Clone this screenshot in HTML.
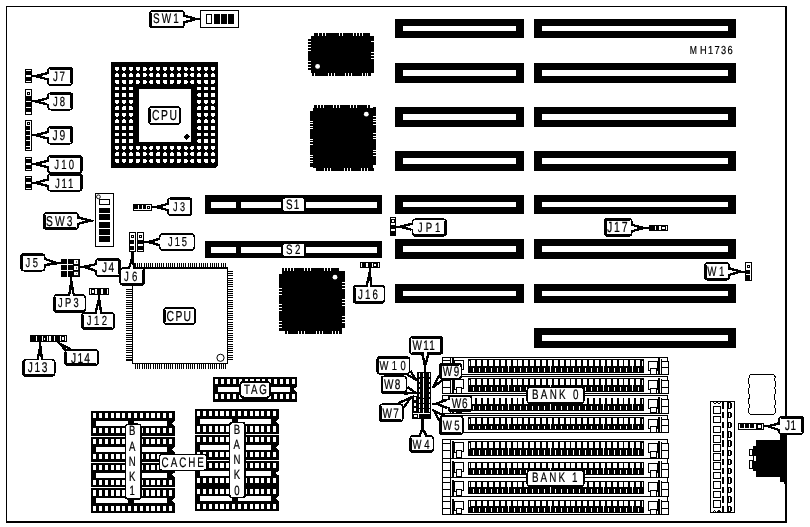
<!DOCTYPE html>
<html><head><meta charset="utf-8"><title>MH1736</title>
<style>
html,body{margin:0;padding:0;background:#fff;}
body{width:810px;height:527px;overflow:hidden;}
svg{display:block;filter:grayscale(1);}
text{font-family:"Liberation Sans",sans-serif;text-rendering:geometricPrecision;stroke:#000;stroke-width:0.22px;}
</style></head><body>
<svg width="810" height="527" viewBox="0 0 810 527" shape-rendering="crispEdges">
<rect width="810" height="527" fill="#fff"/>
<line x1="6.4" y1="5.8" x2="6.4" y2="522.8" stroke="#000" stroke-width="1.1"/>
<line x1="5.9" y1="6.3" x2="787" y2="6.3" stroke="#000" stroke-width="1.1"/>
<rect x="785" y="5.8" width="2" height="517.2" fill="#000"/>
<rect x="5.9" y="520.8" width="781.1" height="2.2" fill="#000"/>
<rect x="394.9" y="19.2" width="129" height="18.6" fill="#000"/>
<rect x="402.8" y="25.8" width="113.4" height="5.4" fill="#fff"/>
<rect x="533.8" y="19.2" width="202" height="18.6" fill="#000"/>
<rect x="541.7" y="25.8" width="186.3" height="5.4" fill="#fff"/>
<rect x="394.9" y="63" width="129" height="19.8" fill="#000"/>
<rect x="402.8" y="69.5" width="113.4" height="6.3" fill="#fff"/>
<rect x="533.8" y="63" width="202" height="19.8" fill="#000"/>
<rect x="541.7" y="69.5" width="186.3" height="6.3" fill="#fff"/>
<rect x="394.9" y="107" width="129" height="19.7" fill="#000"/>
<rect x="402.8" y="113.7" width="113.4" height="6.3" fill="#fff"/>
<rect x="533.8" y="107" width="202" height="19.7" fill="#000"/>
<rect x="541.7" y="113.7" width="186.3" height="6.3" fill="#fff"/>
<rect x="394.9" y="151.2" width="129" height="19.6" fill="#000"/>
<rect x="402.8" y="157.8" width="113.4" height="6" fill="#fff"/>
<rect x="533.8" y="151.2" width="202" height="19.6" fill="#000"/>
<rect x="541.7" y="157.8" width="186.3" height="6" fill="#fff"/>
<rect x="394.9" y="195" width="129" height="18.8" fill="#000"/>
<rect x="402.8" y="201.7" width="113.4" height="5.1" fill="#fff"/>
<rect x="533.8" y="195" width="202" height="18.8" fill="#000"/>
<rect x="541.7" y="201.7" width="186.3" height="5.1" fill="#fff"/>
<rect x="394.9" y="238.8" width="129" height="20" fill="#000"/>
<rect x="402.8" y="245.8" width="113.4" height="6" fill="#fff"/>
<rect x="533.8" y="238.8" width="202" height="20" fill="#000"/>
<rect x="541.7" y="245.8" width="186.3" height="6" fill="#fff"/>
<rect x="394.9" y="283.8" width="129" height="18.9" fill="#000"/>
<rect x="402.8" y="290.7" width="113.4" height="5.3" fill="#fff"/>
<rect x="533.8" y="283.8" width="202" height="18.9" fill="#000"/>
<rect x="541.7" y="290.7" width="186.3" height="5.3" fill="#fff"/>
<rect x="533.8" y="328" width="202" height="19.7" fill="#000"/>
<rect x="541.7" y="334.8" width="186.3" height="5.9" fill="#fff"/>
<rect x="204.9" y="195.4" width="177" height="18.5" fill="#000"/>
<rect x="211" y="201.8" width="25.2" height="6.2" fill="#fff"/>
<rect x="240.7" y="201.8" width="136.5" height="6.2" fill="#fff"/>
<rect x="282.2" y="197.4" width="23" height="14.7" fill="#fff" stroke="#000" stroke-width="2" rx="3"/>
<text transform="translate(286.1 208.9) scale(0.72 1)" font-size="13.66" letter-spacing="1.55" fill="#000">S1</text>
<rect x="204.9" y="240.6" width="177" height="17.7" fill="#000"/>
<rect x="211" y="246.7" width="25.2" height="6.2" fill="#fff"/>
<rect x="240.7" y="246.7" width="136.5" height="6.2" fill="#fff"/>
<rect x="282.2" y="242.8" width="23" height="14.4" fill="#fff" stroke="#000" stroke-width="2" rx="3"/>
<text transform="translate(286.1 253.9) scale(0.72 1)" font-size="13.52" letter-spacing="3.22" fill="#000">S2</text>
<path d="M111.2 62H218V165.6L215.2 168.4H111.2Z" fill="#000" stroke="none" stroke-width="1"/>
<rect x="138.8" y="88.8" width="52.4" height="52.9" fill="#fff"/>
<rect x="115.2" y="66.8" width="4" height="3.8" rx="1.2" fill="#fff"/>
<rect x="115.2" y="73.38" width="4" height="3.8" rx="1.2" fill="#fff"/>
<rect x="115.2" y="79.96" width="4" height="3.8" rx="1.2" fill="#fff"/>
<rect x="115.2" y="86.54" width="4" height="3.8" rx="1.2" fill="#fff"/>
<rect x="115.2" y="93.12" width="4" height="3.8" rx="1.2" fill="#fff"/>
<rect x="115.2" y="99.7" width="4" height="3.8" rx="1.2" fill="#fff"/>
<rect x="115.2" y="106.28" width="4" height="3.8" rx="1.2" fill="#fff"/>
<rect x="115.2" y="112.86" width="4" height="3.8" rx="1.2" fill="#fff"/>
<rect x="115.2" y="119.44" width="4" height="3.8" rx="1.2" fill="#fff"/>
<rect x="115.2" y="126.02" width="4" height="3.8" rx="1.2" fill="#fff"/>
<rect x="115.2" y="132.6" width="4" height="3.8" rx="1.2" fill="#fff"/>
<rect x="115.2" y="139.18" width="4" height="3.8" rx="1.2" fill="#fff"/>
<rect x="115.2" y="145.76" width="4" height="3.8" rx="1.2" fill="#fff"/>
<rect x="115.2" y="152.34" width="4" height="3.8" rx="1.2" fill="#fff"/>
<rect x="115.2" y="158.92" width="4" height="3.8" rx="1.2" fill="#fff"/>
<rect x="122.04" y="66.8" width="4" height="3.8" rx="1.2" fill="#fff"/>
<rect x="122.04" y="73.38" width="4" height="3.8" rx="1.2" fill="#fff"/>
<rect x="122.04" y="79.96" width="4" height="3.8" rx="1.2" fill="#fff"/>
<rect x="122.04" y="86.54" width="4" height="3.8" rx="1.2" fill="#fff"/>
<rect x="122.04" y="93.12" width="4" height="3.8" rx="1.2" fill="#fff"/>
<rect x="122.04" y="99.7" width="4" height="3.8" rx="1.2" fill="#fff"/>
<rect x="122.04" y="106.28" width="4" height="3.8" rx="1.2" fill="#fff"/>
<rect x="122.04" y="112.86" width="4" height="3.8" rx="1.2" fill="#fff"/>
<rect x="122.04" y="119.44" width="4" height="3.8" rx="1.2" fill="#fff"/>
<rect x="122.04" y="126.02" width="4" height="3.8" rx="1.2" fill="#fff"/>
<rect x="122.04" y="132.6" width="4" height="3.8" rx="1.2" fill="#fff"/>
<rect x="122.04" y="139.18" width="4" height="3.8" rx="1.2" fill="#fff"/>
<rect x="122.04" y="145.76" width="4" height="3.8" rx="1.2" fill="#fff"/>
<rect x="122.04" y="152.34" width="4" height="3.8" rx="1.2" fill="#fff"/>
<rect x="122.04" y="158.92" width="4" height="3.8" rx="1.2" fill="#fff"/>
<rect x="128.88" y="66.8" width="4" height="3.8" rx="1.2" fill="#fff"/>
<rect x="128.88" y="73.38" width="4" height="3.8" rx="1.2" fill="#fff"/>
<rect x="128.88" y="79.96" width="4" height="3.8" rx="1.2" fill="#fff"/>
<rect x="128.88" y="86.54" width="4" height="3.8" rx="1.2" fill="#fff"/>
<rect x="128.88" y="93.12" width="4" height="3.8" rx="1.2" fill="#fff"/>
<rect x="128.88" y="99.7" width="4" height="3.8" rx="1.2" fill="#fff"/>
<rect x="128.88" y="106.28" width="4" height="3.8" rx="1.2" fill="#fff"/>
<rect x="128.88" y="112.86" width="4" height="3.8" rx="1.2" fill="#fff"/>
<rect x="128.88" y="119.44" width="4" height="3.8" rx="1.2" fill="#fff"/>
<rect x="128.88" y="126.02" width="4" height="3.8" rx="1.2" fill="#fff"/>
<rect x="128.88" y="132.6" width="4" height="3.8" rx="1.2" fill="#fff"/>
<rect x="128.88" y="139.18" width="4" height="3.8" rx="1.2" fill="#fff"/>
<rect x="128.88" y="145.76" width="4" height="3.8" rx="1.2" fill="#fff"/>
<rect x="128.88" y="152.34" width="4" height="3.8" rx="1.2" fill="#fff"/>
<rect x="128.88" y="158.92" width="4" height="3.8" rx="1.2" fill="#fff"/>
<rect x="135.72" y="66.8" width="4" height="3.8" rx="1.2" fill="#fff"/>
<rect x="135.72" y="73.38" width="4" height="3.8" rx="1.2" fill="#fff"/>
<rect x="135.72" y="79.96" width="4" height="3.8" rx="1.2" fill="#fff"/>
<rect x="135.72" y="145.76" width="4" height="3.8" rx="1.2" fill="#fff"/>
<rect x="135.72" y="152.34" width="4" height="3.8" rx="1.2" fill="#fff"/>
<rect x="135.72" y="158.92" width="4" height="3.8" rx="1.2" fill="#fff"/>
<rect x="142.56" y="66.8" width="4" height="3.8" rx="1.2" fill="#fff"/>
<rect x="142.56" y="73.38" width="4" height="3.8" rx="1.2" fill="#fff"/>
<rect x="142.56" y="79.96" width="4" height="3.8" rx="1.2" fill="#fff"/>
<rect x="142.56" y="145.76" width="4" height="3.8" rx="1.2" fill="#fff"/>
<rect x="142.56" y="152.34" width="4" height="3.8" rx="1.2" fill="#fff"/>
<rect x="142.56" y="158.92" width="4" height="3.8" rx="1.2" fill="#fff"/>
<rect x="149.4" y="66.8" width="4" height="3.8" rx="1.2" fill="#fff"/>
<rect x="149.4" y="73.38" width="4" height="3.8" rx="1.2" fill="#fff"/>
<rect x="149.4" y="79.96" width="4" height="3.8" rx="1.2" fill="#fff"/>
<rect x="149.4" y="145.76" width="4" height="3.8" rx="1.2" fill="#fff"/>
<rect x="149.4" y="152.34" width="4" height="3.8" rx="1.2" fill="#fff"/>
<rect x="149.4" y="158.92" width="4" height="3.8" rx="1.2" fill="#fff"/>
<rect x="156.24" y="66.8" width="4" height="3.8" rx="1.2" fill="#fff"/>
<rect x="156.24" y="73.38" width="4" height="3.8" rx="1.2" fill="#fff"/>
<rect x="156.24" y="79.96" width="4" height="3.8" rx="1.2" fill="#fff"/>
<rect x="156.24" y="145.76" width="4" height="3.8" rx="1.2" fill="#fff"/>
<rect x="156.24" y="152.34" width="4" height="3.8" rx="1.2" fill="#fff"/>
<rect x="156.24" y="158.92" width="4" height="3.8" rx="1.2" fill="#fff"/>
<rect x="163.08" y="66.8" width="4" height="3.8" rx="1.2" fill="#fff"/>
<rect x="163.08" y="73.38" width="4" height="3.8" rx="1.2" fill="#fff"/>
<rect x="163.08" y="79.96" width="4" height="3.8" rx="1.2" fill="#fff"/>
<rect x="163.08" y="145.76" width="4" height="3.8" rx="1.2" fill="#fff"/>
<rect x="163.08" y="152.34" width="4" height="3.8" rx="1.2" fill="#fff"/>
<rect x="163.08" y="158.92" width="4" height="3.8" rx="1.2" fill="#fff"/>
<rect x="169.92" y="66.8" width="4" height="3.8" rx="1.2" fill="#fff"/>
<rect x="169.92" y="73.38" width="4" height="3.8" rx="1.2" fill="#fff"/>
<rect x="169.92" y="79.96" width="4" height="3.8" rx="1.2" fill="#fff"/>
<rect x="169.92" y="145.76" width="4" height="3.8" rx="1.2" fill="#fff"/>
<rect x="169.92" y="152.34" width="4" height="3.8" rx="1.2" fill="#fff"/>
<rect x="169.92" y="158.92" width="4" height="3.8" rx="1.2" fill="#fff"/>
<rect x="176.76" y="66.8" width="4" height="3.8" rx="1.2" fill="#fff"/>
<rect x="176.76" y="73.38" width="4" height="3.8" rx="1.2" fill="#fff"/>
<rect x="176.76" y="79.96" width="4" height="3.8" rx="1.2" fill="#fff"/>
<rect x="176.76" y="145.76" width="4" height="3.8" rx="1.2" fill="#fff"/>
<rect x="176.76" y="152.34" width="4" height="3.8" rx="1.2" fill="#fff"/>
<rect x="176.76" y="158.92" width="4" height="3.8" rx="1.2" fill="#fff"/>
<rect x="183.6" y="66.8" width="4" height="3.8" rx="1.2" fill="#fff"/>
<rect x="183.6" y="73.38" width="4" height="3.8" rx="1.2" fill="#fff"/>
<rect x="183.6" y="79.96" width="4" height="3.8" rx="1.2" fill="#fff"/>
<rect x="183.6" y="145.76" width="4" height="3.8" rx="1.2" fill="#fff"/>
<rect x="183.6" y="152.34" width="4" height="3.8" rx="1.2" fill="#fff"/>
<rect x="183.6" y="158.92" width="4" height="3.8" rx="1.2" fill="#fff"/>
<rect x="190.44" y="66.8" width="4" height="3.8" rx="1.2" fill="#fff"/>
<rect x="190.44" y="73.38" width="4" height="3.8" rx="1.2" fill="#fff"/>
<rect x="190.44" y="79.96" width="4" height="3.8" rx="1.2" fill="#fff"/>
<rect x="190.44" y="145.76" width="4" height="3.8" rx="1.2" fill="#fff"/>
<rect x="190.44" y="152.34" width="4" height="3.8" rx="1.2" fill="#fff"/>
<rect x="190.44" y="158.92" width="4" height="3.8" rx="1.2" fill="#fff"/>
<rect x="197.28" y="66.8" width="4" height="3.8" rx="1.2" fill="#fff"/>
<rect x="197.28" y="73.38" width="4" height="3.8" rx="1.2" fill="#fff"/>
<rect x="197.28" y="79.96" width="4" height="3.8" rx="1.2" fill="#fff"/>
<rect x="197.28" y="86.54" width="4" height="3.8" rx="1.2" fill="#fff"/>
<rect x="197.28" y="93.12" width="4" height="3.8" rx="1.2" fill="#fff"/>
<rect x="197.28" y="99.7" width="4" height="3.8" rx="1.2" fill="#fff"/>
<rect x="197.28" y="106.28" width="4" height="3.8" rx="1.2" fill="#fff"/>
<rect x="197.28" y="112.86" width="4" height="3.8" rx="1.2" fill="#fff"/>
<rect x="197.28" y="119.44" width="4" height="3.8" rx="1.2" fill="#fff"/>
<rect x="197.28" y="126.02" width="4" height="3.8" rx="1.2" fill="#fff"/>
<rect x="197.28" y="132.6" width="4" height="3.8" rx="1.2" fill="#fff"/>
<rect x="197.28" y="139.18" width="4" height="3.8" rx="1.2" fill="#fff"/>
<rect x="197.28" y="145.76" width="4" height="3.8" rx="1.2" fill="#fff"/>
<rect x="197.28" y="152.34" width="4" height="3.8" rx="1.2" fill="#fff"/>
<rect x="197.28" y="158.92" width="4" height="3.8" rx="1.2" fill="#fff"/>
<rect x="204.12" y="66.8" width="4" height="3.8" rx="1.2" fill="#fff"/>
<rect x="204.12" y="73.38" width="4" height="3.8" rx="1.2" fill="#fff"/>
<rect x="204.12" y="79.96" width="4" height="3.8" rx="1.2" fill="#fff"/>
<rect x="204.12" y="86.54" width="4" height="3.8" rx="1.2" fill="#fff"/>
<rect x="204.12" y="93.12" width="4" height="3.8" rx="1.2" fill="#fff"/>
<rect x="204.12" y="99.7" width="4" height="3.8" rx="1.2" fill="#fff"/>
<rect x="204.12" y="106.28" width="4" height="3.8" rx="1.2" fill="#fff"/>
<rect x="204.12" y="112.86" width="4" height="3.8" rx="1.2" fill="#fff"/>
<rect x="204.12" y="119.44" width="4" height="3.8" rx="1.2" fill="#fff"/>
<rect x="204.12" y="126.02" width="4" height="3.8" rx="1.2" fill="#fff"/>
<rect x="204.12" y="132.6" width="4" height="3.8" rx="1.2" fill="#fff"/>
<rect x="204.12" y="139.18" width="4" height="3.8" rx="1.2" fill="#fff"/>
<rect x="204.12" y="145.76" width="4" height="3.8" rx="1.2" fill="#fff"/>
<rect x="204.12" y="152.34" width="4" height="3.8" rx="1.2" fill="#fff"/>
<rect x="204.12" y="158.92" width="4" height="3.8" rx="1.2" fill="#fff"/>
<rect x="210.96" y="66.8" width="4" height="3.8" rx="1.2" fill="#fff"/>
<rect x="210.96" y="73.38" width="4" height="3.8" rx="1.2" fill="#fff"/>
<rect x="210.96" y="79.96" width="4" height="3.8" rx="1.2" fill="#fff"/>
<rect x="210.96" y="86.54" width="4" height="3.8" rx="1.2" fill="#fff"/>
<rect x="210.96" y="93.12" width="4" height="3.8" rx="1.2" fill="#fff"/>
<rect x="210.96" y="99.7" width="4" height="3.8" rx="1.2" fill="#fff"/>
<rect x="210.96" y="106.28" width="4" height="3.8" rx="1.2" fill="#fff"/>
<rect x="210.96" y="112.86" width="4" height="3.8" rx="1.2" fill="#fff"/>
<rect x="210.96" y="119.44" width="4" height="3.8" rx="1.2" fill="#fff"/>
<rect x="210.96" y="126.02" width="4" height="3.8" rx="1.2" fill="#fff"/>
<rect x="210.96" y="132.6" width="4" height="3.8" rx="1.2" fill="#fff"/>
<rect x="210.96" y="139.18" width="4" height="3.8" rx="1.2" fill="#fff"/>
<rect x="210.96" y="145.76" width="4" height="3.8" rx="1.2" fill="#fff"/>
<rect x="210.96" y="152.34" width="4" height="3.8" rx="1.2" fill="#fff"/>
<rect x="210.96" y="158.92" width="4" height="3.8" rx="1.2" fill="#fff"/>
<path d="M186.7 133.4L190 136.7L186.7 140L183.4 136.7Z" fill="#000" stroke="none" stroke-width="1"/>
<rect x="310.8" y="36" width="60.2" height="37" fill="#000"/>
<rect x="313.9" y="33" width="56.1" height="3.2" fill="#000"/>
<rect x="311.9" y="72.8" width="58.7" height="3.2" fill="#000"/>
<rect x="307.8" y="38.9" width="3.2" height="31" fill="#000"/>
<rect x="370.8" y="36.1" width="3.2" height="36.5" fill="#000"/>
<rect x="318.2" y="32.8" width="1" height="3.2" fill="#fff"/>
<rect x="321.6" y="32.8" width="1" height="3.2" fill="#fff"/>
<rect x="325" y="32.8" width="1" height="3.2" fill="#fff"/>
<rect x="338.7" y="32.8" width="1" height="3.2" fill="#fff"/>
<rect x="341.8" y="32.8" width="1" height="3.2" fill="#fff"/>
<rect x="352.6" y="32.8" width="1" height="3.2" fill="#fff"/>
<rect x="356" y="32.8" width="1" height="3.2" fill="#fff"/>
<rect x="359.2" y="32.8" width="1" height="3.2" fill="#fff"/>
<rect x="362.3" y="32.8" width="1" height="3.2" fill="#fff"/>
<rect x="314.1" y="73" width="1" height="3.2" fill="#fff"/>
<rect x="327.8" y="73" width="1" height="3.2" fill="#fff"/>
<rect x="330.9" y="73" width="1" height="3.2" fill="#fff"/>
<rect x="334.3" y="73" width="1" height="3.2" fill="#fff"/>
<rect x="344.8" y="73" width="1" height="3.2" fill="#fff"/>
<rect x="348.2" y="73" width="1" height="3.2" fill="#fff"/>
<rect x="351.4" y="73" width="1" height="3.2" fill="#fff"/>
<rect x="361.9" y="73" width="1" height="3.2" fill="#fff"/>
<rect x="364.6" y="73" width="1" height="3.2" fill="#fff"/>
<rect x="367.4" y="73" width="1" height="3.2" fill="#fff"/>
<rect x="307.6" y="41.1" width="3.2" height="1" fill="#fff"/>
<rect x="307.6" y="44.1" width="3.2" height="1" fill="#fff"/>
<rect x="307.6" y="47.2" width="3.2" height="1" fill="#fff"/>
<rect x="307.6" y="50.2" width="3.2" height="1" fill="#fff"/>
<rect x="307.6" y="60.5" width="3.2" height="1" fill="#fff"/>
<rect x="307.6" y="63.5" width="3.2" height="1" fill="#fff"/>
<rect x="307.6" y="66.6" width="3.2" height="1" fill="#fff"/>
<rect x="371" y="41.4" width="3.2" height="1" fill="#fff"/>
<rect x="371" y="51.6" width="3.2" height="1" fill="#fff"/>
<rect x="371" y="54.7" width="3.2" height="1" fill="#fff"/>
<rect x="371" y="58.2" width="3.2" height="1" fill="#fff"/>
<circle cx="317.6" cy="66.4" r="2.4" fill="#fff" stroke="none" stroke-width="1" shape-rendering="geometricPrecision"/>
<rect x="313" y="108" width="60.2" height="59.7" fill="#000"/>
<rect x="313.5" y="105" width="56.5" height="3.2" fill="#000"/>
<rect x="316" y="167.5" width="57.6" height="3.2" fill="#000"/>
<rect x="310" y="111" width="3.2" height="56.2" fill="#000"/>
<rect x="373" y="107.4" width="3.2" height="57.4" fill="#000"/>
<rect x="316.5" y="104.8" width="1" height="3.2" fill="#fff"/>
<rect x="319.5" y="104.8" width="1" height="3.2" fill="#fff"/>
<rect x="322.5" y="104.8" width="1" height="3.2" fill="#fff"/>
<rect x="333" y="104.8" width="1" height="3.2" fill="#fff"/>
<rect x="336" y="104.8" width="1" height="3.2" fill="#fff"/>
<rect x="339" y="104.8" width="1" height="3.2" fill="#fff"/>
<rect x="350" y="104.8" width="1" height="3.2" fill="#fff"/>
<rect x="353" y="104.8" width="1" height="3.2" fill="#fff"/>
<rect x="356" y="104.8" width="1" height="3.2" fill="#fff"/>
<rect x="366.5" y="104.8" width="1" height="3.2" fill="#fff"/>
<rect x="324" y="167.7" width="1" height="3.2" fill="#fff"/>
<rect x="327" y="167.7" width="1" height="3.2" fill="#fff"/>
<rect x="330" y="167.7" width="1" height="3.2" fill="#fff"/>
<rect x="344" y="167.7" width="1" height="3.2" fill="#fff"/>
<rect x="347" y="167.7" width="1" height="3.2" fill="#fff"/>
<rect x="350" y="167.7" width="1" height="3.2" fill="#fff"/>
<rect x="361" y="167.7" width="1" height="3.2" fill="#fff"/>
<rect x="364" y="167.7" width="1" height="3.2" fill="#fff"/>
<rect x="367" y="167.7" width="1" height="3.2" fill="#fff"/>
<rect x="309.8" y="120.5" width="3.2" height="1" fill="#fff"/>
<rect x="309.8" y="123" width="3.2" height="1" fill="#fff"/>
<rect x="309.8" y="125.5" width="3.2" height="1" fill="#fff"/>
<rect x="309.8" y="128" width="3.2" height="1" fill="#fff"/>
<rect x="309.8" y="138.5" width="3.2" height="1" fill="#fff"/>
<rect x="309.8" y="141" width="3.2" height="1" fill="#fff"/>
<rect x="309.8" y="143.5" width="3.2" height="1" fill="#fff"/>
<rect x="309.8" y="154.5" width="3.2" height="1" fill="#fff"/>
<rect x="309.8" y="157" width="3.2" height="1" fill="#fff"/>
<rect x="309.8" y="159.5" width="3.2" height="1" fill="#fff"/>
<rect x="309.8" y="162" width="3.2" height="1" fill="#fff"/>
<rect x="373.2" y="116" width="3.2" height="1" fill="#fff"/>
<rect x="373.2" y="118.5" width="3.2" height="1" fill="#fff"/>
<rect x="373.2" y="121" width="3.2" height="1" fill="#fff"/>
<rect x="373.2" y="123.5" width="3.2" height="1" fill="#fff"/>
<rect x="373.2" y="133" width="3.2" height="1" fill="#fff"/>
<rect x="373.2" y="135.5" width="3.2" height="1" fill="#fff"/>
<rect x="373.2" y="138" width="3.2" height="1" fill="#fff"/>
<rect x="373.2" y="149.5" width="3.2" height="1" fill="#fff"/>
<rect x="373.2" y="152" width="3.2" height="1" fill="#fff"/>
<rect x="373.2" y="154.5" width="3.2" height="1" fill="#fff"/>
<circle cx="366.3" cy="114.2" r="2.4" fill="#fff" stroke="none" stroke-width="1" shape-rendering="geometricPrecision"/>
<rect x="281.8" y="270.9" width="60.2" height="60.5" fill="#000"/>
<rect x="281.9" y="267.9" width="56.9" height="3.2" fill="#000"/>
<rect x="284.9" y="331.2" width="56.9" height="3.2" fill="#000"/>
<rect x="278.8" y="273.7" width="3.2" height="56.9" fill="#000"/>
<rect x="341.8" y="271.4" width="3.2" height="56.2" fill="#000"/>
<rect x="283.9" y="267.7" width="1" height="3.2" fill="#fff"/>
<rect x="286.7" y="267.7" width="1" height="3.2" fill="#fff"/>
<rect x="289.7" y="267.7" width="1" height="3.2" fill="#fff"/>
<rect x="292.8" y="267.7" width="1" height="3.2" fill="#fff"/>
<rect x="304.1" y="267.7" width="1" height="3.2" fill="#fff"/>
<rect x="307.2" y="267.7" width="1" height="3.2" fill="#fff"/>
<rect x="310.2" y="267.7" width="1" height="3.2" fill="#fff"/>
<rect x="323.9" y="267.7" width="1" height="3.2" fill="#fff"/>
<rect x="326.9" y="267.7" width="1" height="3.2" fill="#fff"/>
<rect x="329.9" y="267.7" width="1" height="3.2" fill="#fff"/>
<rect x="286.7" y="331.4" width="1" height="3.2" fill="#fff"/>
<rect x="298.1" y="331.4" width="1" height="3.2" fill="#fff"/>
<rect x="301.1" y="331.4" width="1" height="3.2" fill="#fff"/>
<rect x="304.1" y="331.4" width="1" height="3.2" fill="#fff"/>
<rect x="315.5" y="331.4" width="1" height="3.2" fill="#fff"/>
<rect x="318.6" y="331.4" width="1" height="3.2" fill="#fff"/>
<rect x="321.6" y="331.4" width="1" height="3.2" fill="#fff"/>
<rect x="332.2" y="331.4" width="1" height="3.2" fill="#fff"/>
<rect x="335.3" y="331.4" width="1" height="3.2" fill="#fff"/>
<rect x="338.3" y="331.4" width="1" height="3.2" fill="#fff"/>
<rect x="278.6" y="287.6" width="3.2" height="1" fill="#fff"/>
<rect x="278.6" y="290.6" width="3.2" height="1" fill="#fff"/>
<rect x="278.6" y="293.7" width="3.2" height="1" fill="#fff"/>
<rect x="278.6" y="304.3" width="3.2" height="1" fill="#fff"/>
<rect x="278.6" y="307.3" width="3.2" height="1" fill="#fff"/>
<rect x="278.6" y="310.4" width="3.2" height="1" fill="#fff"/>
<rect x="278.6" y="321" width="3.2" height="1" fill="#fff"/>
<rect x="278.6" y="324" width="3.2" height="1" fill="#fff"/>
<rect x="278.6" y="327.1" width="3.2" height="1" fill="#fff"/>
<rect x="342" y="282.3" width="3.2" height="1" fill="#fff"/>
<rect x="342" y="285.3" width="3.2" height="1" fill="#fff"/>
<rect x="342" y="288.3" width="3.2" height="1" fill="#fff"/>
<rect x="342" y="299" width="3.2" height="1" fill="#fff"/>
<rect x="342" y="302" width="3.2" height="1" fill="#fff"/>
<rect x="342" y="305" width="3.2" height="1" fill="#fff"/>
<rect x="342" y="315.7" width="3.2" height="1" fill="#fff"/>
<rect x="342" y="318.7" width="3.2" height="1" fill="#fff"/>
<rect x="342" y="321.7" width="3.2" height="1" fill="#fff"/>
<circle cx="335" cy="277.2" r="2.4" fill="#fff" stroke="none" stroke-width="1" shape-rendering="geometricPrecision"/>
<rect x="132" y="267.4" width="96.2" height="96.6" fill="#000"/>
<rect x="133.2" y="268.6" width="93.8" height="94.2" fill="#fff"/>
<rect x="135" y="263.2" width="1" height="5.1" fill="#000"/>
<rect x="137" y="263.2" width="1" height="5.1" fill="#000"/>
<rect x="139" y="263.2" width="1" height="5.1" fill="#000"/>
<rect x="141" y="263.2" width="1" height="5.1" fill="#000"/>
<rect x="144" y="263.2" width="1" height="5.1" fill="#000"/>
<rect x="146" y="263.2" width="1" height="5.1" fill="#000"/>
<rect x="148" y="263.2" width="1" height="5.1" fill="#000"/>
<rect x="150" y="263.2" width="1" height="5.1" fill="#000"/>
<rect x="152" y="263.2" width="1" height="5.1" fill="#000"/>
<rect x="155" y="263.2" width="1" height="5.1" fill="#000"/>
<rect x="157" y="263.2" width="1" height="5.1" fill="#000"/>
<rect x="159" y="263.2" width="1" height="5.1" fill="#000"/>
<rect x="161" y="263.2" width="1" height="5.1" fill="#000"/>
<rect x="163" y="263.2" width="1" height="5.1" fill="#000"/>
<rect x="166" y="263.2" width="1" height="5.1" fill="#000"/>
<rect x="168" y="263.2" width="1" height="5.1" fill="#000"/>
<rect x="170" y="263.2" width="1" height="5.1" fill="#000"/>
<rect x="172" y="263.2" width="1" height="5.1" fill="#000"/>
<rect x="174" y="263.2" width="1" height="5.1" fill="#000"/>
<rect x="177" y="263.2" width="1" height="5.1" fill="#000"/>
<rect x="179" y="263.2" width="1" height="5.1" fill="#000"/>
<rect x="181" y="263.2" width="1" height="5.1" fill="#000"/>
<rect x="183" y="263.2" width="1" height="5.1" fill="#000"/>
<rect x="185" y="263.2" width="1" height="5.1" fill="#000"/>
<rect x="188" y="263.2" width="1" height="5.1" fill="#000"/>
<rect x="190" y="263.2" width="1" height="5.1" fill="#000"/>
<rect x="192" y="263.2" width="1" height="5.1" fill="#000"/>
<rect x="194" y="263.2" width="1" height="5.1" fill="#000"/>
<rect x="196" y="263.2" width="1" height="5.1" fill="#000"/>
<rect x="199" y="263.2" width="1" height="5.1" fill="#000"/>
<rect x="201" y="263.2" width="1" height="5.1" fill="#000"/>
<rect x="203" y="263.2" width="1" height="5.1" fill="#000"/>
<rect x="205" y="263.2" width="1" height="5.1" fill="#000"/>
<rect x="207" y="263.2" width="1" height="5.1" fill="#000"/>
<rect x="210" y="263.2" width="1" height="5.1" fill="#000"/>
<rect x="212" y="263.2" width="1" height="5.1" fill="#000"/>
<rect x="214" y="263.2" width="1" height="5.1" fill="#000"/>
<rect x="216" y="263.2" width="1" height="5.1" fill="#000"/>
<rect x="218" y="263.2" width="1" height="5.1" fill="#000"/>
<rect x="221" y="263.2" width="1" height="5.1" fill="#000"/>
<rect x="223" y="263.2" width="1" height="5.1" fill="#000"/>
<rect x="225" y="263.2" width="1" height="5.1" fill="#000"/>
<rect x="135" y="363.5" width="1" height="5.5" fill="#000"/>
<rect x="137" y="363.5" width="1" height="5.5" fill="#000"/>
<rect x="139" y="363.5" width="1" height="5.5" fill="#000"/>
<rect x="142" y="363.5" width="1" height="5.5" fill="#000"/>
<rect x="144" y="363.5" width="1" height="5.5" fill="#000"/>
<rect x="146" y="363.5" width="1" height="5.5" fill="#000"/>
<rect x="148" y="363.5" width="1" height="5.5" fill="#000"/>
<rect x="150" y="363.5" width="1" height="5.5" fill="#000"/>
<rect x="153" y="363.5" width="1" height="5.5" fill="#000"/>
<rect x="155" y="363.5" width="1" height="5.5" fill="#000"/>
<rect x="157" y="363.5" width="1" height="5.5" fill="#000"/>
<rect x="159" y="363.5" width="1" height="5.5" fill="#000"/>
<rect x="161" y="363.5" width="1" height="5.5" fill="#000"/>
<rect x="164" y="363.5" width="1" height="5.5" fill="#000"/>
<rect x="166" y="363.5" width="1" height="5.5" fill="#000"/>
<rect x="168" y="363.5" width="1" height="5.5" fill="#000"/>
<rect x="170" y="363.5" width="1" height="5.5" fill="#000"/>
<rect x="172" y="363.5" width="1" height="5.5" fill="#000"/>
<rect x="175" y="363.5" width="1" height="5.5" fill="#000"/>
<rect x="177" y="363.5" width="1" height="5.5" fill="#000"/>
<rect x="179" y="363.5" width="1" height="5.5" fill="#000"/>
<rect x="181" y="363.5" width="1" height="5.5" fill="#000"/>
<rect x="183" y="363.5" width="1" height="5.5" fill="#000"/>
<rect x="186" y="363.5" width="1" height="5.5" fill="#000"/>
<rect x="188" y="363.5" width="1" height="5.5" fill="#000"/>
<rect x="190" y="363.5" width="1" height="5.5" fill="#000"/>
<rect x="192" y="363.5" width="1" height="5.5" fill="#000"/>
<rect x="194" y="363.5" width="1" height="5.5" fill="#000"/>
<rect x="197" y="363.5" width="1" height="5.5" fill="#000"/>
<rect x="199" y="363.5" width="1" height="5.5" fill="#000"/>
<rect x="201" y="363.5" width="1" height="5.5" fill="#000"/>
<rect x="203" y="363.5" width="1" height="5.5" fill="#000"/>
<rect x="205" y="363.5" width="1" height="5.5" fill="#000"/>
<rect x="208" y="363.5" width="1" height="5.5" fill="#000"/>
<rect x="210" y="363.5" width="1" height="5.5" fill="#000"/>
<rect x="212" y="363.5" width="1" height="5.5" fill="#000"/>
<rect x="214" y="363.5" width="1" height="5.5" fill="#000"/>
<rect x="216" y="363.5" width="1" height="5.5" fill="#000"/>
<rect x="219" y="363.5" width="1" height="5.5" fill="#000"/>
<rect x="221" y="363.5" width="1" height="5.5" fill="#000"/>
<rect x="223" y="363.5" width="1" height="5.5" fill="#000"/>
<rect x="225" y="363.5" width="1" height="5.5" fill="#000"/>
<rect x="227.3" y="271" width="5.7" height="1" fill="#000"/>
<rect x="227.3" y="273" width="5.7" height="1" fill="#000"/>
<rect x="227.3" y="275" width="5.7" height="1" fill="#000"/>
<rect x="227.3" y="278" width="5.7" height="1" fill="#000"/>
<rect x="227.3" y="280" width="5.7" height="1" fill="#000"/>
<rect x="227.3" y="282" width="5.7" height="1" fill="#000"/>
<rect x="227.3" y="284" width="5.7" height="1" fill="#000"/>
<rect x="227.3" y="286" width="5.7" height="1" fill="#000"/>
<rect x="227.3" y="289" width="5.7" height="1" fill="#000"/>
<rect x="125.8" y="289" width="6.9" height="1" fill="#000"/>
<rect x="227.3" y="291" width="5.7" height="1" fill="#000"/>
<rect x="125.8" y="291" width="6.9" height="1" fill="#000"/>
<rect x="227.3" y="293" width="5.7" height="1" fill="#000"/>
<rect x="125.8" y="293" width="6.9" height="1" fill="#000"/>
<rect x="227.3" y="295" width="5.7" height="1" fill="#000"/>
<rect x="125.8" y="295" width="6.9" height="1" fill="#000"/>
<rect x="227.3" y="297" width="5.7" height="1" fill="#000"/>
<rect x="125.8" y="297" width="6.9" height="1" fill="#000"/>
<rect x="227.3" y="300" width="5.7" height="1" fill="#000"/>
<rect x="125.8" y="300" width="6.9" height="1" fill="#000"/>
<rect x="227.3" y="302" width="5.7" height="1" fill="#000"/>
<rect x="125.8" y="302" width="6.9" height="1" fill="#000"/>
<rect x="227.3" y="304" width="5.7" height="1" fill="#000"/>
<rect x="125.8" y="304" width="6.9" height="1" fill="#000"/>
<rect x="227.3" y="306" width="5.7" height="1" fill="#000"/>
<rect x="125.8" y="306" width="6.9" height="1" fill="#000"/>
<rect x="227.3" y="308" width="5.7" height="1" fill="#000"/>
<rect x="125.8" y="308" width="6.9" height="1" fill="#000"/>
<rect x="227.3" y="311" width="5.7" height="1" fill="#000"/>
<rect x="125.8" y="311" width="6.9" height="1" fill="#000"/>
<rect x="227.3" y="313" width="5.7" height="1" fill="#000"/>
<rect x="125.8" y="313" width="6.9" height="1" fill="#000"/>
<rect x="227.3" y="315" width="5.7" height="1" fill="#000"/>
<rect x="125.8" y="315" width="6.9" height="1" fill="#000"/>
<rect x="227.3" y="317" width="5.7" height="1" fill="#000"/>
<rect x="125.8" y="317" width="6.9" height="1" fill="#000"/>
<rect x="227.3" y="319" width="5.7" height="1" fill="#000"/>
<rect x="125.8" y="319" width="6.9" height="1" fill="#000"/>
<rect x="227.3" y="322" width="5.7" height="1" fill="#000"/>
<rect x="125.8" y="322" width="6.9" height="1" fill="#000"/>
<rect x="227.3" y="324" width="5.7" height="1" fill="#000"/>
<rect x="125.8" y="324" width="6.9" height="1" fill="#000"/>
<rect x="227.3" y="326" width="5.7" height="1" fill="#000"/>
<rect x="125.8" y="326" width="6.9" height="1" fill="#000"/>
<rect x="227.3" y="328" width="5.7" height="1" fill="#000"/>
<rect x="125.8" y="328" width="6.9" height="1" fill="#000"/>
<rect x="227.3" y="330" width="5.7" height="1" fill="#000"/>
<rect x="125.8" y="330" width="6.9" height="1" fill="#000"/>
<rect x="227.3" y="333" width="5.7" height="1" fill="#000"/>
<rect x="125.8" y="333" width="6.9" height="1" fill="#000"/>
<rect x="227.3" y="335" width="5.7" height="1" fill="#000"/>
<rect x="125.8" y="335" width="6.9" height="1" fill="#000"/>
<rect x="227.3" y="337" width="5.7" height="1" fill="#000"/>
<rect x="125.8" y="337" width="6.9" height="1" fill="#000"/>
<rect x="227.3" y="339" width="5.7" height="1" fill="#000"/>
<rect x="125.8" y="339" width="6.9" height="1" fill="#000"/>
<rect x="227.3" y="341" width="5.7" height="1" fill="#000"/>
<rect x="125.8" y="341" width="6.9" height="1" fill="#000"/>
<rect x="227.3" y="344" width="5.7" height="1" fill="#000"/>
<rect x="125.8" y="344" width="6.9" height="1" fill="#000"/>
<rect x="227.3" y="346" width="5.7" height="1" fill="#000"/>
<rect x="125.8" y="346" width="6.9" height="1" fill="#000"/>
<rect x="227.3" y="348" width="5.7" height="1" fill="#000"/>
<rect x="125.8" y="348" width="6.9" height="1" fill="#000"/>
<rect x="227.3" y="350" width="5.7" height="1" fill="#000"/>
<rect x="125.8" y="350" width="6.9" height="1" fill="#000"/>
<rect x="227.3" y="352" width="5.7" height="1" fill="#000"/>
<rect x="125.8" y="352" width="6.9" height="1" fill="#000"/>
<rect x="227.3" y="355" width="5.7" height="1" fill="#000"/>
<rect x="125.8" y="355" width="6.9" height="1" fill="#000"/>
<rect x="227.3" y="357" width="5.7" height="1" fill="#000"/>
<rect x="125.8" y="357" width="6.9" height="1" fill="#000"/>
<rect x="227.3" y="359" width="5.7" height="1" fill="#000"/>
<rect x="125.8" y="359" width="6.9" height="1" fill="#000"/>
<rect x="125.8" y="359.3" width="6.9" height="1.5" fill="#000"/>
<circle cx="220.5" cy="357.8" r="3.6" fill="#fff" stroke="#000" stroke-width="1" shape-rendering="geometricPrecision"/>
<rect x="213" y="377" width="83.7" height="24.7" fill="#000"/>
<rect x="215" y="379.1" width="3.2" height="5.3" fill="#fff"/>
<rect x="215" y="394.1" width="3.2" height="5.2" fill="#fff"/>
<rect x="220.9" y="379.1" width="3.2" height="5.3" fill="#fff"/>
<rect x="220.9" y="394.1" width="3.2" height="5.2" fill="#fff"/>
<rect x="226.8" y="379.1" width="3.2" height="5.3" fill="#fff"/>
<rect x="226.8" y="394.1" width="3.2" height="5.2" fill="#fff"/>
<rect x="232.7" y="379.1" width="3.2" height="5.3" fill="#fff"/>
<rect x="232.7" y="394.1" width="3.2" height="5.2" fill="#fff"/>
<rect x="238.6" y="379.1" width="3.2" height="5.3" fill="#fff"/>
<rect x="238.6" y="394.1" width="3.2" height="5.2" fill="#fff"/>
<rect x="244.5" y="379.1" width="3.2" height="5.3" fill="#fff"/>
<rect x="244.5" y="394.1" width="3.2" height="5.2" fill="#fff"/>
<rect x="250.4" y="379.1" width="3.2" height="5.3" fill="#fff"/>
<rect x="250.4" y="394.1" width="3.2" height="5.2" fill="#fff"/>
<rect x="256.3" y="379.1" width="3.2" height="5.3" fill="#fff"/>
<rect x="256.3" y="394.1" width="3.2" height="5.2" fill="#fff"/>
<rect x="262.2" y="379.1" width="3.2" height="5.3" fill="#fff"/>
<rect x="262.2" y="394.1" width="3.2" height="5.2" fill="#fff"/>
<rect x="268.1" y="379.1" width="3.2" height="5.3" fill="#fff"/>
<rect x="268.1" y="394.1" width="3.2" height="5.2" fill="#fff"/>
<rect x="274" y="379.1" width="3.2" height="5.3" fill="#fff"/>
<rect x="274" y="394.1" width="3.2" height="5.2" fill="#fff"/>
<rect x="279.9" y="379.1" width="3.2" height="5.3" fill="#fff"/>
<rect x="279.9" y="394.1" width="3.2" height="5.2" fill="#fff"/>
<rect x="285.8" y="379.1" width="3.2" height="5.3" fill="#fff"/>
<rect x="285.8" y="394.1" width="3.2" height="5.2" fill="#fff"/>
<rect x="291.7" y="379.1" width="3.2" height="5.3" fill="#fff"/>
<rect x="291.7" y="394.1" width="3.2" height="5.2" fill="#fff"/>
<rect x="217.8" y="387" width="72.2" height="4.8" fill="#fff"/>
<path d="M297 386.15L293.5 389.35L297 392.55Z" fill="#fff" stroke="none" stroke-width="1"/>
<rect x="90.9" y="410.9" width="84.2" height="24.9" fill="#000"/>
<rect x="93" y="413" width="3.2" height="5.3" fill="#fff"/>
<rect x="93" y="428.2" width="3.2" height="5.2" fill="#fff"/>
<rect x="98.84" y="413" width="3.2" height="5.3" fill="#fff"/>
<rect x="98.84" y="428.2" width="3.2" height="5.2" fill="#fff"/>
<rect x="104.68" y="413" width="3.2" height="5.3" fill="#fff"/>
<rect x="104.68" y="428.2" width="3.2" height="5.2" fill="#fff"/>
<rect x="110.52" y="413" width="3.2" height="5.3" fill="#fff"/>
<rect x="110.52" y="428.2" width="3.2" height="5.2" fill="#fff"/>
<rect x="116.36" y="413" width="3.2" height="5.3" fill="#fff"/>
<rect x="116.36" y="428.2" width="3.2" height="5.2" fill="#fff"/>
<rect x="122.2" y="413" width="3.2" height="5.3" fill="#fff"/>
<rect x="122.2" y="428.2" width="3.2" height="5.2" fill="#fff"/>
<rect x="128.04" y="413" width="3.2" height="5.3" fill="#fff"/>
<rect x="128.04" y="428.2" width="3.2" height="5.2" fill="#fff"/>
<rect x="133.88" y="413" width="3.2" height="5.3" fill="#fff"/>
<rect x="133.88" y="428.2" width="3.2" height="5.2" fill="#fff"/>
<rect x="139.72" y="413" width="3.2" height="5.3" fill="#fff"/>
<rect x="139.72" y="428.2" width="3.2" height="5.2" fill="#fff"/>
<rect x="145.56" y="413" width="3.2" height="5.3" fill="#fff"/>
<rect x="145.56" y="428.2" width="3.2" height="5.2" fill="#fff"/>
<rect x="151.4" y="413" width="3.2" height="5.3" fill="#fff"/>
<rect x="151.4" y="428.2" width="3.2" height="5.2" fill="#fff"/>
<rect x="157.24" y="413" width="3.2" height="5.3" fill="#fff"/>
<rect x="157.24" y="428.2" width="3.2" height="5.2" fill="#fff"/>
<rect x="163.08" y="413" width="3.2" height="5.3" fill="#fff"/>
<rect x="163.08" y="428.2" width="3.2" height="5.2" fill="#fff"/>
<rect x="168.92" y="413" width="3.2" height="5.3" fill="#fff"/>
<rect x="168.92" y="428.2" width="3.2" height="5.2" fill="#fff"/>
<rect x="95.9" y="420.9" width="71.2" height="5" fill="#fff"/>
<rect x="128.2" y="419.9" width="5.6" height="6.9" fill="#000"/>
<path d="M175.4 420.15L171.9 423.35L175.4 426.55Z" fill="#fff" stroke="none" stroke-width="1"/>
<rect x="90.9" y="436.7" width="84.2" height="24.9" fill="#000"/>
<rect x="93" y="438.8" width="3.2" height="5.3" fill="#fff"/>
<rect x="93" y="454" width="3.2" height="5.2" fill="#fff"/>
<rect x="98.84" y="438.8" width="3.2" height="5.3" fill="#fff"/>
<rect x="98.84" y="454" width="3.2" height="5.2" fill="#fff"/>
<rect x="104.68" y="438.8" width="3.2" height="5.3" fill="#fff"/>
<rect x="104.68" y="454" width="3.2" height="5.2" fill="#fff"/>
<rect x="110.52" y="438.8" width="3.2" height="5.3" fill="#fff"/>
<rect x="110.52" y="454" width="3.2" height="5.2" fill="#fff"/>
<rect x="116.36" y="438.8" width="3.2" height="5.3" fill="#fff"/>
<rect x="116.36" y="454" width="3.2" height="5.2" fill="#fff"/>
<rect x="122.2" y="438.8" width="3.2" height="5.3" fill="#fff"/>
<rect x="122.2" y="454" width="3.2" height="5.2" fill="#fff"/>
<rect x="128.04" y="438.8" width="3.2" height="5.3" fill="#fff"/>
<rect x="128.04" y="454" width="3.2" height="5.2" fill="#fff"/>
<rect x="133.88" y="438.8" width="3.2" height="5.3" fill="#fff"/>
<rect x="133.88" y="454" width="3.2" height="5.2" fill="#fff"/>
<rect x="139.72" y="438.8" width="3.2" height="5.3" fill="#fff"/>
<rect x="139.72" y="454" width="3.2" height="5.2" fill="#fff"/>
<rect x="145.56" y="438.8" width="3.2" height="5.3" fill="#fff"/>
<rect x="145.56" y="454" width="3.2" height="5.2" fill="#fff"/>
<rect x="151.4" y="438.8" width="3.2" height="5.3" fill="#fff"/>
<rect x="151.4" y="454" width="3.2" height="5.2" fill="#fff"/>
<rect x="157.24" y="438.8" width="3.2" height="5.3" fill="#fff"/>
<rect x="157.24" y="454" width="3.2" height="5.2" fill="#fff"/>
<rect x="163.08" y="438.8" width="3.2" height="5.3" fill="#fff"/>
<rect x="163.08" y="454" width="3.2" height="5.2" fill="#fff"/>
<rect x="168.92" y="438.8" width="3.2" height="5.3" fill="#fff"/>
<rect x="168.92" y="454" width="3.2" height="5.2" fill="#fff"/>
<rect x="95.9" y="446.7" width="71.2" height="5" fill="#fff"/>
<rect x="128.2" y="445.7" width="5.6" height="6.9" fill="#000"/>
<path d="M175.4 445.95L171.9 449.15L175.4 452.35Z" fill="#fff" stroke="none" stroke-width="1"/>
<rect x="90.9" y="462.5" width="84.2" height="24.9" fill="#000"/>
<rect x="93" y="464.6" width="3.2" height="5.3" fill="#fff"/>
<rect x="93" y="479.8" width="3.2" height="5.2" fill="#fff"/>
<rect x="98.84" y="464.6" width="3.2" height="5.3" fill="#fff"/>
<rect x="98.84" y="479.8" width="3.2" height="5.2" fill="#fff"/>
<rect x="104.68" y="464.6" width="3.2" height="5.3" fill="#fff"/>
<rect x="104.68" y="479.8" width="3.2" height="5.2" fill="#fff"/>
<rect x="110.52" y="464.6" width="3.2" height="5.3" fill="#fff"/>
<rect x="110.52" y="479.8" width="3.2" height="5.2" fill="#fff"/>
<rect x="116.36" y="464.6" width="3.2" height="5.3" fill="#fff"/>
<rect x="116.36" y="479.8" width="3.2" height="5.2" fill="#fff"/>
<rect x="122.2" y="464.6" width="3.2" height="5.3" fill="#fff"/>
<rect x="122.2" y="479.8" width="3.2" height="5.2" fill="#fff"/>
<rect x="128.04" y="464.6" width="3.2" height="5.3" fill="#fff"/>
<rect x="128.04" y="479.8" width="3.2" height="5.2" fill="#fff"/>
<rect x="133.88" y="464.6" width="3.2" height="5.3" fill="#fff"/>
<rect x="133.88" y="479.8" width="3.2" height="5.2" fill="#fff"/>
<rect x="139.72" y="464.6" width="3.2" height="5.3" fill="#fff"/>
<rect x="139.72" y="479.8" width="3.2" height="5.2" fill="#fff"/>
<rect x="145.56" y="464.6" width="3.2" height="5.3" fill="#fff"/>
<rect x="145.56" y="479.8" width="3.2" height="5.2" fill="#fff"/>
<rect x="151.4" y="464.6" width="3.2" height="5.3" fill="#fff"/>
<rect x="151.4" y="479.8" width="3.2" height="5.2" fill="#fff"/>
<rect x="157.24" y="464.6" width="3.2" height="5.3" fill="#fff"/>
<rect x="157.24" y="479.8" width="3.2" height="5.2" fill="#fff"/>
<rect x="163.08" y="464.6" width="3.2" height="5.3" fill="#fff"/>
<rect x="163.08" y="479.8" width="3.2" height="5.2" fill="#fff"/>
<rect x="168.92" y="464.6" width="3.2" height="5.3" fill="#fff"/>
<rect x="168.92" y="479.8" width="3.2" height="5.2" fill="#fff"/>
<rect x="95.9" y="472.5" width="71.2" height="5" fill="#fff"/>
<rect x="128.2" y="471.5" width="5.6" height="6.9" fill="#000"/>
<path d="M175.4 471.75L171.9 474.95L175.4 478.15Z" fill="#fff" stroke="none" stroke-width="1"/>
<rect x="90.9" y="488.3" width="84.2" height="24.9" fill="#000"/>
<rect x="93" y="490.4" width="3.2" height="5.3" fill="#fff"/>
<rect x="93" y="505.6" width="3.2" height="5.2" fill="#fff"/>
<rect x="98.84" y="490.4" width="3.2" height="5.3" fill="#fff"/>
<rect x="98.84" y="505.6" width="3.2" height="5.2" fill="#fff"/>
<rect x="104.68" y="490.4" width="3.2" height="5.3" fill="#fff"/>
<rect x="104.68" y="505.6" width="3.2" height="5.2" fill="#fff"/>
<rect x="110.52" y="490.4" width="3.2" height="5.3" fill="#fff"/>
<rect x="110.52" y="505.6" width="3.2" height="5.2" fill="#fff"/>
<rect x="116.36" y="490.4" width="3.2" height="5.3" fill="#fff"/>
<rect x="116.36" y="505.6" width="3.2" height="5.2" fill="#fff"/>
<rect x="122.2" y="490.4" width="3.2" height="5.3" fill="#fff"/>
<rect x="122.2" y="505.6" width="3.2" height="5.2" fill="#fff"/>
<rect x="128.04" y="490.4" width="3.2" height="5.3" fill="#fff"/>
<rect x="128.04" y="505.6" width="3.2" height="5.2" fill="#fff"/>
<rect x="133.88" y="490.4" width="3.2" height="5.3" fill="#fff"/>
<rect x="133.88" y="505.6" width="3.2" height="5.2" fill="#fff"/>
<rect x="139.72" y="490.4" width="3.2" height="5.3" fill="#fff"/>
<rect x="139.72" y="505.6" width="3.2" height="5.2" fill="#fff"/>
<rect x="145.56" y="490.4" width="3.2" height="5.3" fill="#fff"/>
<rect x="145.56" y="505.6" width="3.2" height="5.2" fill="#fff"/>
<rect x="151.4" y="490.4" width="3.2" height="5.3" fill="#fff"/>
<rect x="151.4" y="505.6" width="3.2" height="5.2" fill="#fff"/>
<rect x="157.24" y="490.4" width="3.2" height="5.3" fill="#fff"/>
<rect x="157.24" y="505.6" width="3.2" height="5.2" fill="#fff"/>
<rect x="163.08" y="490.4" width="3.2" height="5.3" fill="#fff"/>
<rect x="163.08" y="505.6" width="3.2" height="5.2" fill="#fff"/>
<rect x="168.92" y="490.4" width="3.2" height="5.3" fill="#fff"/>
<rect x="168.92" y="505.6" width="3.2" height="5.2" fill="#fff"/>
<rect x="95.9" y="498.3" width="71.2" height="5" fill="#fff"/>
<rect x="128.2" y="497.3" width="5.6" height="6.9" fill="#000"/>
<path d="M175.4 497.55L171.9 500.75L175.4 503.95Z" fill="#fff" stroke="none" stroke-width="1"/>
<rect x="194.9" y="409" width="84.2" height="24.9" fill="#000"/>
<rect x="197" y="411.1" width="3.2" height="5.3" fill="#fff"/>
<rect x="197" y="426.3" width="3.2" height="5.2" fill="#fff"/>
<rect x="202.84" y="411.1" width="3.2" height="5.3" fill="#fff"/>
<rect x="202.84" y="426.3" width="3.2" height="5.2" fill="#fff"/>
<rect x="208.68" y="411.1" width="3.2" height="5.3" fill="#fff"/>
<rect x="208.68" y="426.3" width="3.2" height="5.2" fill="#fff"/>
<rect x="214.52" y="411.1" width="3.2" height="5.3" fill="#fff"/>
<rect x="214.52" y="426.3" width="3.2" height="5.2" fill="#fff"/>
<rect x="220.36" y="411.1" width="3.2" height="5.3" fill="#fff"/>
<rect x="220.36" y="426.3" width="3.2" height="5.2" fill="#fff"/>
<rect x="226.2" y="411.1" width="3.2" height="5.3" fill="#fff"/>
<rect x="226.2" y="426.3" width="3.2" height="5.2" fill="#fff"/>
<rect x="232.04" y="411.1" width="3.2" height="5.3" fill="#fff"/>
<rect x="232.04" y="426.3" width="3.2" height="5.2" fill="#fff"/>
<rect x="237.88" y="411.1" width="3.2" height="5.3" fill="#fff"/>
<rect x="237.88" y="426.3" width="3.2" height="5.2" fill="#fff"/>
<rect x="243.72" y="411.1" width="3.2" height="5.3" fill="#fff"/>
<rect x="243.72" y="426.3" width="3.2" height="5.2" fill="#fff"/>
<rect x="249.56" y="411.1" width="3.2" height="5.3" fill="#fff"/>
<rect x="249.56" y="426.3" width="3.2" height="5.2" fill="#fff"/>
<rect x="255.4" y="411.1" width="3.2" height="5.3" fill="#fff"/>
<rect x="255.4" y="426.3" width="3.2" height="5.2" fill="#fff"/>
<rect x="261.24" y="411.1" width="3.2" height="5.3" fill="#fff"/>
<rect x="261.24" y="426.3" width="3.2" height="5.2" fill="#fff"/>
<rect x="267.08" y="411.1" width="3.2" height="5.3" fill="#fff"/>
<rect x="267.08" y="426.3" width="3.2" height="5.2" fill="#fff"/>
<rect x="272.92" y="411.1" width="3.2" height="5.3" fill="#fff"/>
<rect x="272.92" y="426.3" width="3.2" height="5.2" fill="#fff"/>
<rect x="199.9" y="419" width="71.2" height="5" fill="#fff"/>
<rect x="232.2" y="418" width="5.6" height="6.9" fill="#000"/>
<path d="M279.4 418.25L275.9 421.45L279.4 424.65Z" fill="#fff" stroke="none" stroke-width="1"/>
<rect x="194.9" y="434.8" width="84.2" height="24.9" fill="#000"/>
<rect x="197" y="436.9" width="3.2" height="5.3" fill="#fff"/>
<rect x="197" y="452.1" width="3.2" height="5.2" fill="#fff"/>
<rect x="202.84" y="436.9" width="3.2" height="5.3" fill="#fff"/>
<rect x="202.84" y="452.1" width="3.2" height="5.2" fill="#fff"/>
<rect x="208.68" y="436.9" width="3.2" height="5.3" fill="#fff"/>
<rect x="208.68" y="452.1" width="3.2" height="5.2" fill="#fff"/>
<rect x="214.52" y="436.9" width="3.2" height="5.3" fill="#fff"/>
<rect x="214.52" y="452.1" width="3.2" height="5.2" fill="#fff"/>
<rect x="220.36" y="436.9" width="3.2" height="5.3" fill="#fff"/>
<rect x="220.36" y="452.1" width="3.2" height="5.2" fill="#fff"/>
<rect x="226.2" y="436.9" width="3.2" height="5.3" fill="#fff"/>
<rect x="226.2" y="452.1" width="3.2" height="5.2" fill="#fff"/>
<rect x="232.04" y="436.9" width="3.2" height="5.3" fill="#fff"/>
<rect x="232.04" y="452.1" width="3.2" height="5.2" fill="#fff"/>
<rect x="237.88" y="436.9" width="3.2" height="5.3" fill="#fff"/>
<rect x="237.88" y="452.1" width="3.2" height="5.2" fill="#fff"/>
<rect x="243.72" y="436.9" width="3.2" height="5.3" fill="#fff"/>
<rect x="243.72" y="452.1" width="3.2" height="5.2" fill="#fff"/>
<rect x="249.56" y="436.9" width="3.2" height="5.3" fill="#fff"/>
<rect x="249.56" y="452.1" width="3.2" height="5.2" fill="#fff"/>
<rect x="255.4" y="436.9" width="3.2" height="5.3" fill="#fff"/>
<rect x="255.4" y="452.1" width="3.2" height="5.2" fill="#fff"/>
<rect x="261.24" y="436.9" width="3.2" height="5.3" fill="#fff"/>
<rect x="261.24" y="452.1" width="3.2" height="5.2" fill="#fff"/>
<rect x="267.08" y="436.9" width="3.2" height="5.3" fill="#fff"/>
<rect x="267.08" y="452.1" width="3.2" height="5.2" fill="#fff"/>
<rect x="272.92" y="436.9" width="3.2" height="5.3" fill="#fff"/>
<rect x="272.92" y="452.1" width="3.2" height="5.2" fill="#fff"/>
<rect x="199.9" y="444.8" width="71.2" height="5" fill="#fff"/>
<rect x="232.2" y="443.8" width="5.6" height="6.9" fill="#000"/>
<path d="M279.4 444.05L275.9 447.25L279.4 450.45Z" fill="#fff" stroke="none" stroke-width="1"/>
<rect x="194.9" y="460.6" width="84.2" height="24.9" fill="#000"/>
<rect x="197" y="462.7" width="3.2" height="5.3" fill="#fff"/>
<rect x="197" y="477.9" width="3.2" height="5.2" fill="#fff"/>
<rect x="202.84" y="462.7" width="3.2" height="5.3" fill="#fff"/>
<rect x="202.84" y="477.9" width="3.2" height="5.2" fill="#fff"/>
<rect x="208.68" y="462.7" width="3.2" height="5.3" fill="#fff"/>
<rect x="208.68" y="477.9" width="3.2" height="5.2" fill="#fff"/>
<rect x="214.52" y="462.7" width="3.2" height="5.3" fill="#fff"/>
<rect x="214.52" y="477.9" width="3.2" height="5.2" fill="#fff"/>
<rect x="220.36" y="462.7" width="3.2" height="5.3" fill="#fff"/>
<rect x="220.36" y="477.9" width="3.2" height="5.2" fill="#fff"/>
<rect x="226.2" y="462.7" width="3.2" height="5.3" fill="#fff"/>
<rect x="226.2" y="477.9" width="3.2" height="5.2" fill="#fff"/>
<rect x="232.04" y="462.7" width="3.2" height="5.3" fill="#fff"/>
<rect x="232.04" y="477.9" width="3.2" height="5.2" fill="#fff"/>
<rect x="237.88" y="462.7" width="3.2" height="5.3" fill="#fff"/>
<rect x="237.88" y="477.9" width="3.2" height="5.2" fill="#fff"/>
<rect x="243.72" y="462.7" width="3.2" height="5.3" fill="#fff"/>
<rect x="243.72" y="477.9" width="3.2" height="5.2" fill="#fff"/>
<rect x="249.56" y="462.7" width="3.2" height="5.3" fill="#fff"/>
<rect x="249.56" y="477.9" width="3.2" height="5.2" fill="#fff"/>
<rect x="255.4" y="462.7" width="3.2" height="5.3" fill="#fff"/>
<rect x="255.4" y="477.9" width="3.2" height="5.2" fill="#fff"/>
<rect x="261.24" y="462.7" width="3.2" height="5.3" fill="#fff"/>
<rect x="261.24" y="477.9" width="3.2" height="5.2" fill="#fff"/>
<rect x="267.08" y="462.7" width="3.2" height="5.3" fill="#fff"/>
<rect x="267.08" y="477.9" width="3.2" height="5.2" fill="#fff"/>
<rect x="272.92" y="462.7" width="3.2" height="5.3" fill="#fff"/>
<rect x="272.92" y="477.9" width="3.2" height="5.2" fill="#fff"/>
<rect x="199.9" y="470.6" width="71.2" height="5" fill="#fff"/>
<rect x="232.2" y="469.6" width="5.6" height="6.9" fill="#000"/>
<path d="M279.4 469.85L275.9 473.05L279.4 476.25Z" fill="#fff" stroke="none" stroke-width="1"/>
<rect x="194.9" y="486.4" width="84.2" height="24.9" fill="#000"/>
<rect x="197" y="488.5" width="3.2" height="5.3" fill="#fff"/>
<rect x="197" y="503.7" width="3.2" height="5.2" fill="#fff"/>
<rect x="202.84" y="488.5" width="3.2" height="5.3" fill="#fff"/>
<rect x="202.84" y="503.7" width="3.2" height="5.2" fill="#fff"/>
<rect x="208.68" y="488.5" width="3.2" height="5.3" fill="#fff"/>
<rect x="208.68" y="503.7" width="3.2" height="5.2" fill="#fff"/>
<rect x="214.52" y="488.5" width="3.2" height="5.3" fill="#fff"/>
<rect x="214.52" y="503.7" width="3.2" height="5.2" fill="#fff"/>
<rect x="220.36" y="488.5" width="3.2" height="5.3" fill="#fff"/>
<rect x="220.36" y="503.7" width="3.2" height="5.2" fill="#fff"/>
<rect x="226.2" y="488.5" width="3.2" height="5.3" fill="#fff"/>
<rect x="226.2" y="503.7" width="3.2" height="5.2" fill="#fff"/>
<rect x="232.04" y="488.5" width="3.2" height="5.3" fill="#fff"/>
<rect x="232.04" y="503.7" width="3.2" height="5.2" fill="#fff"/>
<rect x="237.88" y="488.5" width="3.2" height="5.3" fill="#fff"/>
<rect x="237.88" y="503.7" width="3.2" height="5.2" fill="#fff"/>
<rect x="243.72" y="488.5" width="3.2" height="5.3" fill="#fff"/>
<rect x="243.72" y="503.7" width="3.2" height="5.2" fill="#fff"/>
<rect x="249.56" y="488.5" width="3.2" height="5.3" fill="#fff"/>
<rect x="249.56" y="503.7" width="3.2" height="5.2" fill="#fff"/>
<rect x="255.4" y="488.5" width="3.2" height="5.3" fill="#fff"/>
<rect x="255.4" y="503.7" width="3.2" height="5.2" fill="#fff"/>
<rect x="261.24" y="488.5" width="3.2" height="5.3" fill="#fff"/>
<rect x="261.24" y="503.7" width="3.2" height="5.2" fill="#fff"/>
<rect x="267.08" y="488.5" width="3.2" height="5.3" fill="#fff"/>
<rect x="267.08" y="503.7" width="3.2" height="5.2" fill="#fff"/>
<rect x="272.92" y="488.5" width="3.2" height="5.3" fill="#fff"/>
<rect x="272.92" y="503.7" width="3.2" height="5.2" fill="#fff"/>
<rect x="199.9" y="496.4" width="71.2" height="5" fill="#fff"/>
<rect x="232.2" y="495.4" width="5.6" height="6.9" fill="#000"/>
<path d="M279.4 495.65L275.9 498.85L279.4 502.05Z" fill="#fff" stroke="none" stroke-width="1"/>
<rect x="240.4" y="381.5" width="29.8" height="16" fill="#fff" stroke="#000" stroke-width="2" rx="3.5"/>
<text transform="translate(244 393.7) scale(0.72 1)" font-size="13.52" letter-spacing="2.51" fill="#000">TAG</text>
<rect x="125.5" y="424.2" width="15.4" height="75" rx="3" fill="#fff" stroke="#000" stroke-width="1.5"/>
<rect x="229.5" y="422.5" width="15.6" height="75.2" rx="3" fill="#fff" stroke="#000" stroke-width="1.5"/>
<text transform="translate(129.05 435.2) scale(0.72 1)" font-size="13.3">B</text>
<text transform="translate(128.96 450.9) scale(0.72 1)" font-size="13.3">A</text>
<text transform="translate(128.78 466.3) scale(0.72 1)" font-size="13.3">N</text>
<text transform="translate(129.05 480.8) scale(0.72 1)" font-size="13.3">K</text>
<text transform="translate(129.59 495.3) scale(0.72 1)" font-size="13.3">1</text>
<text transform="translate(233.65 433.9) scale(0.72 1)" font-size="13.3">B</text>
<text transform="translate(233.56 449.2) scale(0.72 1)" font-size="13.3">A</text>
<text transform="translate(233.38 464.3) scale(0.72 1)" font-size="13.3">N</text>
<text transform="translate(233.65 479.3) scale(0.72 1)" font-size="13.3">K</text>
<text transform="translate(234.19 494.7) scale(0.72 1)" font-size="13.3">0</text>
<rect x="159.4" y="454.4" width="47.4" height="15.8" fill="#fff" stroke="#000" stroke-width="1.2" rx="3"/>
<text transform="translate(161.6 466.6) scale(0.72 1)" font-size="13.66" letter-spacing="2.74" fill="#000">CACHE</text>
<rect x="25" y="69" width="7" height="14" fill="#000"/>
<rect x="26" y="70" width="5" height="1" fill="#fff"/>
<rect x="26" y="75" width="5" height="2" fill="#fff"/>
<rect x="26" y="81" width="5" height="1" fill="#fff"/>
<path d="M47.2 73.2L35.5 76.2L47.2 79.2Z" fill="#fff" stroke="none" stroke-width="1"/>
<path d="M47.2 73.2L35.5 76.2L47.2 79.2" fill="none" stroke="#000" stroke-width="2.4" stroke-linejoin="miter"/>
<line x1="35.5" y1="76.2" x2="31.9" y2="76.2" stroke="#000" stroke-width="2"/>
<rect x="48" y="67.6" width="24.3" height="17.5" rx="3.2" fill="#fff" stroke="#000" stroke-width="1.6"/>
<line x1="49.9" y1="68.2" x2="70.4" y2="68.2" stroke="#000" stroke-width="2.8"/>
<line x1="71.7" y1="69.5" x2="71.7" y2="83.2" stroke="#000" stroke-width="2.8"/>
<path d="M69.9 68.2Q71.7 68.2 71.7 70" fill="none" stroke="#000" stroke-width="2.8"/>
<rect x="46.9" y="74.1" width="2.2" height="4.2" fill="#fff"/>
<text transform="translate(53.1 80.6) scale(0.72 1)" font-size="13.52" letter-spacing="2.28" fill="#000">J7</text>
<rect x="25" y="89" width="7" height="26" fill="#000"/>
<rect x="26" y="101" width="5" height="1" fill="#fff"/>
<rect x="26" y="107" width="5" height="1" fill="#fff"/>
<rect x="26" y="112" width="5" height="2" fill="#fff"/>
<rect x="26" y="90" width="5" height="6" fill="#fff"/>
<rect x="27" y="91.5" width="3" height="3" fill="#000"/>
<rect x="28" y="92.5" width="1" height="1" fill="#fff"/>
<path d="M47.2 98.4L35.5 101.4L47.2 104.4Z" fill="#fff" stroke="none" stroke-width="1"/>
<path d="M47.2 98.4L35.5 101.4L47.2 104.4" fill="none" stroke="#000" stroke-width="2.4" stroke-linejoin="miter"/>
<line x1="35.5" y1="101.4" x2="31.9" y2="101.4" stroke="#000" stroke-width="2"/>
<rect x="48" y="93.1" width="24.3" height="16.7" rx="3.2" fill="#fff" stroke="#000" stroke-width="1.6"/>
<line x1="49.9" y1="93.7" x2="70.4" y2="93.7" stroke="#000" stroke-width="2.8"/>
<line x1="71.7" y1="95" x2="71.7" y2="107.9" stroke="#000" stroke-width="2.8"/>
<path d="M69.9 93.7Q71.7 93.7 71.7 95.5" fill="none" stroke="#000" stroke-width="2.8"/>
<rect x="46.9" y="99.3" width="2.2" height="4.2" fill="#fff"/>
<text transform="translate(53.1 105.6) scale(0.72 1)" font-size="13.23" letter-spacing="2.65" fill="#000">J8</text>
<rect x="25" y="120" width="7" height="31" fill="#000"/>
<rect x="26" y="130" width="5" height="1" fill="#fff"/>
<rect x="26" y="135" width="5" height="1" fill="#fff"/>
<rect x="26" y="140" width="5" height="1" fill="#fff"/>
<rect x="26" y="146" width="5" height="1" fill="#fff"/>
<rect x="26" y="149" width="5" height="1" fill="#fff"/>
<rect x="30" y="121" width="1" height="29" fill="#fff"/>
<rect x="26" y="121" width="5" height="5" fill="#fff"/>
<rect x="26.5" y="122" width="3" height="3" fill="#000"/>
<rect x="27.5" y="123" width="1" height="1" fill="#fff"/>
<path d="M47 132.2L35.5 135.2L47 138.2Z" fill="#fff" stroke="none" stroke-width="1"/>
<path d="M47 132.2L35.5 135.2L47 138.2" fill="none" stroke="#000" stroke-width="2.4" stroke-linejoin="miter"/>
<line x1="35.5" y1="135.2" x2="31.8" y2="135.2" stroke="#000" stroke-width="2"/>
<rect x="47.8" y="126.7" width="24.5" height="17.2" rx="3.2" fill="#fff" stroke="#000" stroke-width="1.6"/>
<line x1="49.7" y1="127.3" x2="70.4" y2="127.3" stroke="#000" stroke-width="2.8"/>
<line x1="71.7" y1="128.6" x2="71.7" y2="142" stroke="#000" stroke-width="2.8"/>
<path d="M69.9 127.3Q71.7 127.3 71.7 129.1" fill="none" stroke="#000" stroke-width="2.8"/>
<rect x="46.7" y="133.1" width="2.2" height="4.2" fill="#fff"/>
<text transform="translate(52.6 140) scale(0.72 1)" font-size="14.24" letter-spacing="2.51" fill="#000">J9</text>
<rect x="25" y="157" width="7" height="14" fill="#000"/>
<rect x="26" y="158" width="5" height="1" fill="#fff"/>
<rect x="26" y="163" width="5" height="2" fill="#fff"/>
<rect x="26" y="169" width="5" height="1" fill="#fff"/>
<path d="M47 161L35.5 164L47 167Z" fill="#fff" stroke="none" stroke-width="1"/>
<path d="M47 161L35.5 164L47 167" fill="none" stroke="#000" stroke-width="2.4" stroke-linejoin="miter"/>
<line x1="35.5" y1="164" x2="31.9" y2="164" stroke="#000" stroke-width="2"/>
<rect x="47.8" y="156" width="34.1" height="16.8" rx="3.2" fill="#fff" stroke="#000" stroke-width="1.6"/>
<line x1="49.7" y1="156.6" x2="80" y2="156.6" stroke="#000" stroke-width="2.8"/>
<line x1="81.3" y1="157.9" x2="81.3" y2="170.9" stroke="#000" stroke-width="2.8"/>
<path d="M79.5 156.6Q81.3 156.6 81.3 158.4" fill="none" stroke="#000" stroke-width="2.8"/>
<rect x="46.7" y="161.9" width="2.2" height="4.2" fill="#fff"/>
<text transform="translate(54.2 168.9) scale(0.72 1)" font-size="13.23" letter-spacing="3.06" fill="#000">J10</text>
<rect x="25" y="176" width="7" height="14" fill="#000"/>
<rect x="26" y="177" width="5" height="1" fill="#fff"/>
<rect x="26" y="182" width="5" height="2" fill="#fff"/>
<rect x="26" y="188" width="5" height="1" fill="#fff"/>
<path d="M47 179.8L35.5 182.8L47 185.8Z" fill="#fff" stroke="none" stroke-width="1"/>
<path d="M47 179.8L35.5 182.8L47 185.8" fill="none" stroke="#000" stroke-width="2.4" stroke-linejoin="miter"/>
<line x1="35.5" y1="182.8" x2="31.9" y2="182.8" stroke="#000" stroke-width="2"/>
<rect x="47.8" y="174" width="34.1" height="16.9" rx="3.2" fill="#fff" stroke="#000" stroke-width="1.6"/>
<line x1="49.7" y1="174.6" x2="80" y2="174.6" stroke="#000" stroke-width="2.8"/>
<line x1="81.3" y1="175.9" x2="81.3" y2="189" stroke="#000" stroke-width="2.8"/>
<path d="M79.5 174.6Q81.3 174.6 81.3 176.4" fill="none" stroke="#000" stroke-width="2.8"/>
<rect x="46.7" y="180.7" width="2.2" height="4.2" fill="#fff"/>
<text transform="translate(54.9 187.6) scale(0.72 1)" font-size="13.37" letter-spacing="2.57" fill="#000">J11</text>
<path d="M184.9 16L196.5 19L184.9 22Z" fill="#fff" stroke="none" stroke-width="1"/>
<path d="M184.9 16L196.5 19L184.9 22" fill="none" stroke="#000" stroke-width="2.4" stroke-linejoin="miter"/>
<line x1="196.5" y1="19" x2="200.2" y2="19" stroke="#000" stroke-width="2"/>
<rect x="150" y="10.8" width="34.1" height="16.8" rx="3.2" fill="#fff" stroke="#000" stroke-width="1.6"/>
<line x1="151.9" y1="27" x2="182.2" y2="27" stroke="#000" stroke-width="2.8"/>
<line x1="150.6" y1="12.7" x2="150.6" y2="25.7" stroke="#000" stroke-width="2.8"/>
<path d="M152.4 27Q150.6 27 150.6 25.2" fill="none" stroke="#000" stroke-width="2.8"/>
<rect x="183" y="16.9" width="2.2" height="4.2" fill="#fff"/>
<text transform="translate(153 23.4) scale(0.72 1)" font-size="13.81" letter-spacing="2.97" fill="#000">SW1</text>
<rect x="200.55" y="10.55" width="37.9" height="17.3" fill="#fff" stroke="#000" stroke-width="1.1"/>
<rect x="206.5" y="14.5" width="5" height="8.7" fill="#fff" stroke="#000" stroke-width="1"/>
<rect x="214" y="14" width="5.7" height="9.7" fill="#000"/>
<rect x="220.7" y="14" width="6.7" height="9.7" fill="#000"/>
<rect x="228.2" y="14" width="5.8" height="9.7" fill="#000"/>
<path d="M79 217.6L90 220.6L79 223.6Z" fill="#fff" stroke="none" stroke-width="1"/>
<path d="M79 217.6L90 220.6L79 223.6" fill="none" stroke="#000" stroke-width="2.4" stroke-linejoin="miter"/>
<line x1="90" y1="220.6" x2="93.4" y2="220.6" stroke="#000" stroke-width="2"/>
<rect x="43.7" y="212.8" width="34.5" height="16.2" rx="3.2" fill="#fff" stroke="#000" stroke-width="1.6"/>
<line x1="45.6" y1="228.4" x2="76.3" y2="228.4" stroke="#000" stroke-width="2.8"/>
<line x1="44.3" y1="214.7" x2="44.3" y2="227.1" stroke="#000" stroke-width="2.8"/>
<path d="M46.1 228.4Q44.3 228.4 44.3 226.6" fill="none" stroke="#000" stroke-width="2.8"/>
<rect x="77.1" y="218.5" width="2.2" height="4.2" fill="#fff"/>
<text transform="translate(45.9 225.9) scale(0.72 1)" font-size="14.24" letter-spacing="3.07" fill="#000">SW3</text>
<rect x="95.5" y="193.5" width="18" height="53" fill="#fff" stroke="#000" stroke-width="1"/>
<rect x="99.5" y="199.5" width="10" height="5" fill="#fff" stroke="#000" stroke-width="1"/>
<circle cx="98.4" cy="196.8" r="1.9" fill="#fff" stroke="#000" stroke-width="0.9" shape-rendering="geometricPrecision"/>
<rect x="99" y="207.5" width="10.7" height="5.8" fill="#000"/>
<rect x="99" y="214.4" width="10.7" height="5.6" fill="#000"/>
<rect x="99" y="221.5" width="10.7" height="6" fill="#000"/>
<rect x="99" y="228.8" width="10.7" height="6.2" fill="#000"/>
<rect x="99" y="236.3" width="10.7" height="5.4" fill="#000"/>
<rect x="133" y="204" width="19" height="7" fill="#000"/>
<rect x="138" y="205" width="1" height="5" fill="#fff"/>
<rect x="142" y="205" width="1" height="5" fill="#fff"/>
<rect x="134" y="209" width="17" height="1" fill="#fff"/>
<rect x="146" y="205" width="5" height="5" fill="#fff"/>
<rect x="147" y="205.5" width="3" height="3" fill="#000"/>
<rect x="148" y="206.5" width="1" height="1" fill="#fff"/>
<path d="M167.2 204L156.5 207L167.2 210Z" fill="#fff" stroke="none" stroke-width="1"/>
<path d="M167.2 204L156.5 207L167.2 210" fill="none" stroke="#000" stroke-width="2.4" stroke-linejoin="miter"/>
<line x1="156.5" y1="207" x2="152" y2="207" stroke="#000" stroke-width="2"/>
<rect x="167.8" y="198.2" width="23.8" height="17" rx="3.2" fill="#fff" stroke="#000" stroke-width="1.6"/>
<line x1="169.7" y1="198.8" x2="189.7" y2="198.8" stroke="#000" stroke-width="2.8"/>
<line x1="191" y1="200.1" x2="191" y2="213.3" stroke="#000" stroke-width="2.8"/>
<path d="M189.2 198.8Q191 198.8 191 200.6" fill="none" stroke="#000" stroke-width="2.8"/>
<rect x="166.7" y="204.9" width="2.2" height="4.2" fill="#fff"/>
<text transform="translate(172.9 210.5) scale(0.72 1)" font-size="12.65" letter-spacing="3.71" fill="#000">J3</text>
<rect x="129" y="232" width="7" height="20" fill="#000"/>
<rect x="130" y="238" width="5" height="2" fill="#fff"/>
<rect x="130" y="244" width="5" height="2" fill="#fff"/>
<rect x="130" y="250" width="5" height="1" fill="#fff"/>
<rect x="134" y="233" width="1" height="18" fill="#fff"/>
<rect x="130" y="233" width="5" height="6" fill="#fff"/>
<rect x="130.5" y="234.5" width="3" height="3" fill="#000"/>
<rect x="131.5" y="235.5" width="1" height="1" fill="#fff"/>
<rect x="137" y="232" width="7" height="20" fill="#000"/>
<rect x="138" y="238" width="5" height="2" fill="#fff"/>
<rect x="138" y="244" width="5" height="2" fill="#fff"/>
<rect x="138" y="250" width="5" height="1" fill="#fff"/>
<rect x="138" y="233" width="5" height="6" fill="#fff"/>
<rect x="139" y="234.5" width="3" height="3" fill="#000"/>
<rect x="140" y="235.5" width="1" height="1" fill="#fff"/>
<path d="M159 239L148.5 242L159 245Z" fill="#fff" stroke="none" stroke-width="1"/>
<path d="M159 239L148.5 242L159 245" fill="none" stroke="#000" stroke-width="2.4" stroke-linejoin="miter"/>
<line x1="148.5" y1="242" x2="143.5" y2="242" stroke="#000" stroke-width="2"/>
<rect x="159.5" y="234" width="34.9" height="16" rx="3.2" fill="#fff" stroke="#000" stroke-width="1.6"/>
<rect x="158.4" y="239.9" width="2.2" height="4.2" fill="#fff"/>
<text transform="translate(168.1 246) scale(0.72 1)" font-size="12.94" letter-spacing="2.7" fill="#000">J15</text>
<rect x="61.1" y="259" width="18.5" height="17.6" fill="#000"/>
<rect x="67" y="259" width="0.9" height="5.9" fill="#fff"/>
<rect x="73.65" y="259.75" width="5.2" height="4.4" fill="#fff" stroke="#000" stroke-width="0.9"/>
<rect x="75.5" y="261.2" width="1.6" height="1.5" fill="#777"/>
<rect x="67" y="264.87" width="0.9" height="5.9" fill="#fff"/>
<rect x="73.65" y="265.62" width="5.2" height="4.4" fill="#fff" stroke="#000" stroke-width="0.9"/>
<rect x="75.5" y="267.07" width="1.6" height="1.5" fill="#777"/>
<rect x="61.1" y="264.47" width="12.1" height="0.8" fill="#fff"/>
<rect x="67" y="270.74" width="0.9" height="5.9" fill="#fff"/>
<rect x="73.65" y="271.49" width="5.2" height="4.4" fill="#fff" stroke="#000" stroke-width="0.9"/>
<rect x="75.5" y="272.94" width="1.6" height="1.5" fill="#777"/>
<rect x="61.1" y="270.34" width="12.1" height="0.8" fill="#fff"/>
<path d="M45.3 259L57 263.3L45.3 265Z" fill="#fff" stroke="none" stroke-width="1"/>
<path d="M45.3 259L57 263.3L45.3 265" fill="none" stroke="#000" stroke-width="2.4" stroke-linejoin="miter"/>
<line x1="57" y1="263.3" x2="61.1" y2="263.3" stroke="#000" stroke-width="2"/>
<rect x="21.1" y="254.1" width="23.7" height="16.6" rx="3.2" fill="#fff" stroke="#000" stroke-width="1.6"/>
<line x1="23" y1="254.7" x2="42.9" y2="254.7" stroke="#000" stroke-width="2.8"/>
<line x1="21.7" y1="256" x2="21.7" y2="268.8" stroke="#000" stroke-width="2.8"/>
<path d="M23.5 254.7Q21.7 254.7 21.7 256.5" fill="none" stroke="#000" stroke-width="2.8"/>
<rect x="43.7" y="259.9" width="2.2" height="4.2" fill="#fff"/>
<text transform="translate(25.6 266.5) scale(0.72 1)" font-size="12.94" letter-spacing="3.61" fill="#000">J5</text>
<path d="M95.2 264.5L84 266.8L95.2 270.5Z" fill="#fff" stroke="none" stroke-width="1"/>
<path d="M95.2 264.5L84 266.8L95.2 270.5" fill="none" stroke="#000" stroke-width="2.4" stroke-linejoin="miter"/>
<line x1="84" y1="266.8" x2="79.6" y2="266.8" stroke="#000" stroke-width="2"/>
<rect x="96" y="258.9" width="24.1" height="17.1" rx="3.2" fill="#fff" stroke="#000" stroke-width="1.6"/>
<line x1="97.9" y1="259.5" x2="118.2" y2="259.5" stroke="#000" stroke-width="2.8"/>
<line x1="119.5" y1="260.8" x2="119.5" y2="274.1" stroke="#000" stroke-width="2.8"/>
<path d="M117.7 259.5Q119.5 259.5 119.5 261.3" fill="none" stroke="#000" stroke-width="2.8"/>
<rect x="94.9" y="265.4" width="2.2" height="4.2" fill="#fff"/>
<text transform="translate(102.1 272) scale(0.72 1)" font-size="13.95" letter-spacing="1.78" fill="#000">J4</text>
<path d="M69.3 294.7L71.4 281L73.5 294.7Z" fill="#fff" stroke="none" stroke-width="1"/>
<path d="M69.3 294.7L71.4 281L73.5 294.7" fill="none" stroke="#000" stroke-width="2.4" stroke-linejoin="miter"/>
<line x1="71.4" y1="281" x2="71.4" y2="276.6" stroke="#000" stroke-width="2"/>
<rect x="54.1" y="295" width="31.4" height="17" rx="3.2" fill="#fff" stroke="#000" stroke-width="1.6"/>
<line x1="56" y1="311.4" x2="83.6" y2="311.4" stroke="#000" stroke-width="2.8"/>
<line x1="54.7" y1="296.9" x2="54.7" y2="310.1" stroke="#000" stroke-width="2.8"/>
<path d="M56.5 311.4Q54.7 311.4 54.7 309.6" fill="none" stroke="#000" stroke-width="2.8"/>
<rect x="70.2" y="293.9" width="2.4" height="2.2" fill="#fff"/>
<text transform="translate(58.1 307.2) scale(0.72 1)" font-size="12.94" letter-spacing="3.23" fill="#000">JP3</text>
<rect x="89" y="288" width="20" height="7" fill="#000"/>
<rect x="91.9" y="290.4" width="2.2" height="2.2" fill="#fff"/>
<rect x="90" y="289" width="0.8" height="5" fill="#fff"/>
<rect x="95.4" y="289" width="1.2" height="5" fill="#fff"/>
<rect x="101" y="289" width="1.5" height="5" fill="#fff"/>
<rect x="106.5" y="289" width="1.5" height="5" fill="#fff"/>
<path d="M95.8 312.2L99.1 299L101 312.2Z" fill="#fff" stroke="none" stroke-width="1"/>
<path d="M95.8 312.2L99.1 299L101 312.2" fill="none" stroke="#000" stroke-width="2.4" stroke-linejoin="miter"/>
<line x1="99.1" y1="299" x2="99.1" y2="295" stroke="#000" stroke-width="2"/>
<rect x="81.9" y="313" width="32.2" height="16" rx="3.2" fill="#fff" stroke="#000" stroke-width="1.6"/>
<line x1="83.8" y1="328.4" x2="112.2" y2="328.4" stroke="#000" stroke-width="2.8"/>
<line x1="82.5" y1="314.9" x2="82.5" y2="327.1" stroke="#000" stroke-width="2.8"/>
<path d="M84.3 328.4Q82.5 328.4 82.5 326.6" fill="none" stroke="#000" stroke-width="2.8"/>
<rect x="96.7" y="311.9" width="3.4" height="2.2" fill="#fff"/>
<text transform="translate(86.7 325.4) scale(0.72 1)" font-size="13.23" letter-spacing="3.48" fill="#000">J12</text>
<rect x="30" y="335" width="37" height="7" fill="#000"/>
<rect x="62.2" y="337.4" width="2.2" height="2.2" fill="#fff"/>
<rect x="35.8" y="336" width="1.2" height="5" fill="#fff"/>
<rect x="42" y="336" width="1.2" height="5" fill="#fff"/>
<rect x="47.2" y="336" width="1" height="5" fill="#fff"/>
<rect x="49.4" y="336" width="1.2" height="5" fill="#fff"/>
<rect x="53.6" y="336" width="1.2" height="5" fill="#fff"/>
<rect x="59.6" y="336" width="1.8" height="5" fill="#fff"/>
<rect x="65.2" y="336" width="0.8" height="5" fill="#fff"/>
<rect x="44" y="337.5" width="1.2" height="2" fill="#fff"/>
<path d="M37.7 358.7L40.4 346L41.9 358.7Z" fill="#fff" stroke="none" stroke-width="1"/>
<path d="M37.7 358.7L40.4 346L41.9 358.7" fill="none" stroke="#000" stroke-width="2.4" stroke-linejoin="miter"/>
<line x1="40.4" y1="346" x2="40.4" y2="341.9" stroke="#000" stroke-width="2"/>
<rect x="23" y="359.5" width="31.8" height="16.4" rx="3.2" fill="#fff" stroke="#000" stroke-width="1.6"/>
<line x1="24.9" y1="375.3" x2="52.9" y2="375.3" stroke="#000" stroke-width="2.8"/>
<line x1="23.6" y1="361.4" x2="23.6" y2="374" stroke="#000" stroke-width="2.8"/>
<path d="M25.4 375.3Q23.6 375.3 23.6 373.5" fill="none" stroke="#000" stroke-width="2.8"/>
<rect x="38.6" y="358.4" width="2.4" height="2.2" fill="#fff"/>
<text transform="translate(27.8 372) scale(0.72 1)" font-size="14.1" letter-spacing="2.2" fill="#000">J13</text>
<path d="M65.6 350.4L60.5 344.2L70.5 348.9Z" fill="#fff" stroke="none" stroke-width="1"/>
<path d="M65.6 350.4L60.5 344.2L70.5 348.9" fill="none" stroke="#000" stroke-width="2.4" stroke-linejoin="miter"/>
<line x1="60.5" y1="344.2" x2="58" y2="341.9" stroke="#000" stroke-width="2"/>
<rect x="65.2" y="349.7" width="32.9" height="15.6" rx="3.2" fill="#fff" stroke="#000" stroke-width="1.6"/>
<line x1="67.1" y1="364.7" x2="96.2" y2="364.7" stroke="#000" stroke-width="2.8"/>
<line x1="65.8" y1="351.6" x2="65.8" y2="363.4" stroke="#000" stroke-width="2.8"/>
<path d="M67.6 364.7Q65.8 364.7 65.8 362.9" fill="none" stroke="#000" stroke-width="2.8"/>
<text transform="translate(71.1 362.8) scale(0.72 1)" font-size="14.24" letter-spacing="1.6" fill="#000">J14</text>
<path d="M129.4 267.3L132.2 258L134.2 267.3Z" fill="#fff" stroke="none" stroke-width="1"/>
<path d="M129.4 267.3L132.2 258L134.2 267.3" fill="none" stroke="#000" stroke-width="2.4" stroke-linejoin="miter"/>
<line x1="132.2" y1="258" x2="132.2" y2="251.7" stroke="#000" stroke-width="2.8"/>
<rect x="120.2" y="268.1" width="24" height="16.9" rx="3.2" fill="#fff" stroke="#000" stroke-width="1.6"/>
<line x1="122.1" y1="284.4" x2="142.3" y2="284.4" stroke="#000" stroke-width="2.8"/>
<line x1="143.6" y1="270" x2="143.6" y2="283.1" stroke="#000" stroke-width="2.8"/>
<path d="M141.8 284.4Q143.6 284.4 143.6 282.6" fill="none" stroke="#000" stroke-width="2.8"/>
<rect x="130.3" y="267" width="3" height="2.2" fill="#fff"/>
<text transform="translate(124 280.9) scale(0.72 1)" font-size="13.37" letter-spacing="4.6" fill="#000">J6</text>
<rect x="390" y="217" width="6" height="19" fill="#000"/>
<rect x="391.9" y="219.9" width="2.2" height="2.2" fill="#fff"/>
<rect x="391" y="218" width="4" height="0.9" fill="#fff"/>
<rect x="391" y="223.3" width="4" height="1.7" fill="#fff"/>
<rect x="391" y="229.3" width="4" height="1.7" fill="#fff"/>
<path d="M411.6 223.8L400 226.8L411.6 229.8Z" fill="#fff" stroke="none" stroke-width="1"/>
<path d="M411.6 223.8L400 226.8L411.6 229.8" fill="none" stroke="#000" stroke-width="2.4" stroke-linejoin="miter"/>
<line x1="400" y1="226.8" x2="395.5" y2="226.8" stroke="#000" stroke-width="2"/>
<rect x="412.4" y="219.2" width="33.9" height="16.5" rx="3.2" fill="#fff" stroke="#000" stroke-width="1.6"/>
<line x1="414.3" y1="235.1" x2="444.4" y2="235.1" stroke="#000" stroke-width="2.8"/>
<line x1="445.7" y1="221.1" x2="445.7" y2="233.8" stroke="#000" stroke-width="2.8"/>
<path d="M443.9 235.1Q445.7 235.1 445.7 233.3" fill="none" stroke="#000" stroke-width="2.8"/>
<rect x="411.3" y="224.7" width="2.2" height="4.2" fill="#fff"/>
<text transform="translate(417.8 231.7) scale(0.72 1)" font-size="13.37" letter-spacing="4.2" fill="#000">JP1</text>
<rect x="360" y="262" width="20" height="6" fill="#000"/>
<rect x="374.2" y="263.9" width="2.2" height="2.2" fill="#fff"/>
<rect x="361" y="263" width="1.2" height="4" fill="#fff"/>
<rect x="365.8" y="263" width="2" height="4" fill="#fff"/>
<rect x="371.6" y="263" width="1.2" height="4" fill="#fff"/>
<rect x="378.2" y="263" width="0.8" height="4" fill="#fff"/>
<path d="M366.9 285.2L369.8 272L371.1 285.2Z" fill="#fff" stroke="none" stroke-width="1"/>
<path d="M366.9 285.2L369.8 272L371.1 285.2" fill="none" stroke="#000" stroke-width="2.4" stroke-linejoin="miter"/>
<line x1="369.8" y1="272" x2="369.8" y2="267.8" stroke="#000" stroke-width="2"/>
<rect x="353.5" y="285.7" width="31.1" height="17.1" rx="3.2" fill="#fff" stroke="#000" stroke-width="1.6"/>
<line x1="355.4" y1="302.2" x2="382.7" y2="302.2" stroke="#000" stroke-width="2.8"/>
<line x1="354.1" y1="287.6" x2="354.1" y2="300.9" stroke="#000" stroke-width="2.8"/>
<path d="M355.9 302.2Q354.1 302.2 354.1 300.4" fill="none" stroke="#000" stroke-width="2.8"/>
<rect x="367.8" y="284.6" width="2.4" height="2.2" fill="#fff"/>
<text transform="translate(358.1 298.5) scale(0.72 1)" font-size="13.52" letter-spacing="2.94" fill="#000">J16</text>
<path d="M632.6 225L644 228L632.6 231Z" fill="#fff" stroke="none" stroke-width="1"/>
<path d="M632.6 225L644 228L632.6 231" fill="none" stroke="#000" stroke-width="2.4" stroke-linejoin="miter"/>
<line x1="644" y1="228" x2="648.9" y2="228" stroke="#000" stroke-width="2"/>
<rect x="604.9" y="218.7" width="26.9" height="17.2" rx="3.2" fill="#fff" stroke="#000" stroke-width="1.6"/>
<line x1="606.8" y1="219.3" x2="629.9" y2="219.3" stroke="#000" stroke-width="2.8"/>
<line x1="606.8" y1="235.3" x2="629.9" y2="235.3" stroke="#000" stroke-width="2.8"/>
<line x1="605.5" y1="220.6" x2="605.5" y2="234" stroke="#000" stroke-width="2.8"/>
<path d="M607.3 219.3Q605.5 219.3 605.5 221.1" fill="none" stroke="#000" stroke-width="2.8"/>
<path d="M607.3 235.3Q605.5 235.3 605.5 233.5" fill="none" stroke="#000" stroke-width="2.8"/>
<rect x="630.7" y="225.9" width="2.2" height="4.2" fill="#fff"/>
<text transform="translate(607 231.8) scale(0.72 1)" font-size="14.6" letter-spacing="2.51" fill="#000">J17</text>
<rect x="649" y="225" width="19" height="6" fill="#000"/>
<rect x="662.3" y="226.9" width="2.2" height="2.2" fill="#fff"/>
<rect x="654.5" y="226" width="1.1" height="4" fill="#fff"/>
<rect x="659.4" y="226" width="1.1" height="4" fill="#fff"/>
<rect x="666" y="226" width="1" height="4" fill="#fff"/>
<path d="M730 268.6L740.5 271.6L730 274.6Z" fill="#fff" stroke="none" stroke-width="1"/>
<path d="M730 268.6L740.5 271.6L730 274.6" fill="none" stroke="#000" stroke-width="2.4" stroke-linejoin="miter"/>
<line x1="740.5" y1="271.6" x2="744.9" y2="271.6" stroke="#000" stroke-width="2"/>
<rect x="705" y="263" width="24.2" height="16.8" rx="3.2" fill="#fff" stroke="#000" stroke-width="1.6"/>
<line x1="706.9" y1="279.2" x2="727.3" y2="279.2" stroke="#000" stroke-width="2.8"/>
<line x1="705.6" y1="264.9" x2="705.6" y2="277.9" stroke="#000" stroke-width="2.8"/>
<path d="M707.4 279.2Q705.6 279.2 705.6 277.4" fill="none" stroke="#000" stroke-width="2.8"/>
<rect x="728.1" y="269.5" width="2.2" height="4.2" fill="#fff"/>
<text transform="translate(707.3 276.1) scale(0.72 1)" font-size="13.52" letter-spacing="3.51" fill="#000">W1</text>
<rect x="745" y="262" width="7" height="19" fill="#000"/>
<rect x="746" y="269" width="5" height="1" fill="#fff"/>
<rect x="746" y="274" width="5" height="1.2" fill="#fff"/>
<rect x="750" y="263" width="1" height="17" fill="#fff"/>
<rect x="746" y="263" width="5" height="6" fill="#fff"/>
<rect x="746.5" y="264.5" width="3" height="3" fill="#000"/>
<rect x="747.5" y="265.5" width="1" height="1" fill="#fff"/>
<rect x="148.95" y="106.85" width="31.1" height="17.2" rx="3.2" fill="#fff" stroke="#000" stroke-width="1.9"/>
<line x1="149.4" y1="108.6" x2="149.4" y2="122.3" stroke="#000" stroke-width="2.8"/>
<text transform="translate(152 120) scale(0.72 1)" font-size="14.39" letter-spacing="2.18" fill="#000">CPU</text>
<rect x="163.95" y="307.85" width="31.1" height="16.2" rx="3.2" fill="#fff" stroke="#000" stroke-width="1.9"/>
<line x1="164.4" y1="309.6" x2="164.4" y2="322.3" stroke="#000" stroke-width="2.8"/>
<text transform="translate(166.6 321) scale(0.72 1)" font-size="14.39" letter-spacing="1.83" fill="#000">CPU</text>
<text transform="translate(689.7 53.8) scale(0.74 1)" font-size="11.6" letter-spacing="0" fill="#000">M</text>
<text transform="translate(700 53.8) scale(0.8 1)" font-size="11.6" letter-spacing="1.66" fill="#000">H1736</text>
<rect x="442.6" y="357" width="224.7" height="17.7" fill="#fff" stroke="#000" stroke-width="1"/>
<rect x="468.1" y="359.3" width="175.9" height="13.4" fill="#000"/>
<rect x="469.3" y="360.7" width="0.8" height="5.3" fill="#fff"/>
<rect x="642" y="360.7" width="0.8" height="5.3" fill="#fff"/>
<rect x="471.3" y="360.2" width="3.99" height="5.6" fill="#fff"/>
<rect x="473" y="367.6" width="1" height="4.1" fill="#fff"/>
<rect x="477.19" y="360.2" width="3.99" height="5.6" fill="#fff"/>
<rect x="479" y="367.6" width="1" height="4.1" fill="#fff"/>
<rect x="483.08" y="360.2" width="3.99" height="5.6" fill="#fff"/>
<rect x="485" y="367.6" width="1" height="4.1" fill="#fff"/>
<rect x="488.97" y="360.2" width="3.99" height="5.6" fill="#fff"/>
<rect x="491" y="367.6" width="1" height="4.1" fill="#fff"/>
<rect x="494.86" y="360.2" width="3.99" height="5.6" fill="#fff"/>
<rect x="497" y="367.6" width="1" height="4.1" fill="#fff"/>
<rect x="500.75" y="360.2" width="3.99" height="5.6" fill="#fff"/>
<rect x="502" y="367.6" width="1" height="4.1" fill="#fff"/>
<rect x="506.65" y="360.2" width="3.99" height="5.6" fill="#fff"/>
<rect x="508" y="360.2" width="1" height="11.5" fill="#fff"/>
<rect x="512.54" y="360.2" width="3.99" height="5.6" fill="#fff"/>
<rect x="514" y="367.6" width="1" height="4.1" fill="#fff"/>
<rect x="518.43" y="360.2" width="3.99" height="5.6" fill="#fff"/>
<rect x="520" y="367.6" width="1" height="4.1" fill="#fff"/>
<rect x="524.32" y="360.2" width="3.99" height="5.6" fill="#fff"/>
<rect x="526" y="367.6" width="1" height="4.1" fill="#fff"/>
<rect x="530.21" y="360.2" width="3.99" height="5.6" fill="#fff"/>
<rect x="532" y="367.6" width="1" height="4.1" fill="#fff"/>
<rect x="536.1" y="360.2" width="3.99" height="5.6" fill="#fff"/>
<rect x="538" y="367.6" width="1" height="4.1" fill="#fff"/>
<rect x="541.99" y="360.2" width="3.99" height="5.6" fill="#fff"/>
<rect x="544" y="367.6" width="1" height="4.1" fill="#fff"/>
<rect x="547.88" y="360.2" width="3.99" height="5.6" fill="#fff"/>
<rect x="550" y="360.2" width="1" height="11.5" fill="#fff"/>
<rect x="553.77" y="360.2" width="3.99" height="5.6" fill="#fff"/>
<rect x="555" y="367.6" width="1" height="4.1" fill="#fff"/>
<rect x="559.67" y="360.2" width="3.99" height="5.6" fill="#fff"/>
<rect x="561" y="367.6" width="1" height="4.1" fill="#fff"/>
<rect x="565.56" y="360.2" width="3.99" height="5.6" fill="#fff"/>
<rect x="567" y="367.6" width="1" height="4.1" fill="#fff"/>
<rect x="571.45" y="360.2" width="3.99" height="5.6" fill="#fff"/>
<rect x="573" y="367.6" width="1" height="4.1" fill="#fff"/>
<rect x="577.34" y="360.2" width="3.99" height="5.6" fill="#fff"/>
<rect x="579" y="367.6" width="1" height="4.1" fill="#fff"/>
<rect x="583.23" y="360.2" width="3.99" height="5.6" fill="#fff"/>
<rect x="585" y="367.6" width="1" height="4.1" fill="#fff"/>
<rect x="589.12" y="360.2" width="3.99" height="5.6" fill="#fff"/>
<rect x="591" y="367.6" width="1" height="4.1" fill="#fff"/>
<rect x="595.01" y="360.2" width="3.99" height="5.6" fill="#fff"/>
<rect x="597" y="367.6" width="1" height="4.1" fill="#fff"/>
<rect x="600.9" y="360.2" width="3.99" height="5.6" fill="#fff"/>
<rect x="603" y="360.2" width="1" height="11.5" fill="#fff"/>
<rect x="606.79" y="360.2" width="3.99" height="5.6" fill="#fff"/>
<rect x="608" y="367.6" width="1" height="4.1" fill="#fff"/>
<rect x="612.68" y="360.2" width="3.99" height="5.6" fill="#fff"/>
<rect x="614" y="367.6" width="1" height="4.1" fill="#fff"/>
<rect x="618.58" y="360.2" width="3.99" height="5.6" fill="#fff"/>
<rect x="620" y="367.6" width="1" height="4.1" fill="#fff"/>
<rect x="624.47" y="360.2" width="3.99" height="5.6" fill="#fff"/>
<rect x="626" y="367.6" width="1" height="4.1" fill="#fff"/>
<rect x="630.36" y="360.2" width="3.99" height="5.6" fill="#fff"/>
<rect x="632" y="360.2" width="1" height="11.5" fill="#fff"/>
<rect x="636.25" y="360.2" width="3.99" height="5.6" fill="#fff"/>
<rect x="638" y="367.6" width="1" height="4.1" fill="#fff"/>
<line x1="442.1" y1="360.5" x2="450.5" y2="360.5" stroke="#000" stroke-width="1"/>
<line x1="442.1" y1="368" x2="450.5" y2="368" stroke="#000" stroke-width="1"/>
<rect x="450.3" y="356.5" width="1" height="18.7" fill="#000"/>
<rect x="452.1" y="358.4" width="1.9" height="15.8" fill="#000"/>
<rect x="454.4" y="360.2" width="8.9" height="8.8" fill="#fff" stroke="#000" stroke-width="1"/>
<rect x="456.9" y="367.4" width="4.2" height="6.5" fill="#fff" stroke="#000" stroke-width="1"/>
<rect x="454.9" y="368.5" width="1.5" height="2" fill="#fff"/>
<rect x="454" y="369.5" width="2.4" height="1" fill="#000"/>
<rect x="657.5" y="358.4" width="2.6" height="16.8" fill="#000"/>
<rect x="661" y="359" width="0.8" height="16.2" fill="#000"/>
<rect x="661.5" y="361" width="6.6" height="6.5" fill="#fff" stroke="#000" stroke-width="1"/>
<rect x="661.5" y="367.5" width="6.6" height="7.2" fill="#fff" stroke="#000" stroke-width="1"/>
<rect x="648.6" y="361" width="8.5" height="9" fill="#fff" stroke="#000" stroke-width="1"/>
<rect x="650.8" y="368.3" width="5.4" height="5.9" fill="#fff" stroke="#000" stroke-width="1"/>
<rect x="442.6" y="376.7" width="224.7" height="17.2" fill="#fff" stroke="#000" stroke-width="1"/>
<rect x="468.1" y="378.4" width="175.9" height="13.3" fill="#000"/>
<rect x="469.3" y="379.8" width="0.8" height="5.25" fill="#fff"/>
<rect x="642" y="379.8" width="0.8" height="5.25" fill="#fff"/>
<rect x="471.3" y="379.3" width="3.99" height="5.55" fill="#fff"/>
<rect x="473" y="386.65" width="1" height="4.05" fill="#fff"/>
<rect x="477.19" y="379.3" width="3.99" height="5.55" fill="#fff"/>
<rect x="479" y="386.65" width="1" height="4.05" fill="#fff"/>
<rect x="483.08" y="379.3" width="3.99" height="5.55" fill="#fff"/>
<rect x="485" y="386.65" width="1" height="4.05" fill="#fff"/>
<rect x="488.97" y="379.3" width="3.99" height="5.55" fill="#fff"/>
<rect x="491" y="386.65" width="1" height="4.05" fill="#fff"/>
<rect x="494.86" y="379.3" width="3.99" height="5.55" fill="#fff"/>
<rect x="497" y="386.65" width="1" height="4.05" fill="#fff"/>
<rect x="500.75" y="379.3" width="3.99" height="5.55" fill="#fff"/>
<rect x="502" y="386.65" width="1" height="4.05" fill="#fff"/>
<rect x="506.65" y="379.3" width="3.99" height="5.55" fill="#fff"/>
<rect x="508" y="379.3" width="1" height="11.4" fill="#fff"/>
<rect x="512.54" y="379.3" width="3.99" height="5.55" fill="#fff"/>
<rect x="514" y="386.65" width="1" height="4.05" fill="#fff"/>
<rect x="518.43" y="379.3" width="3.99" height="5.55" fill="#fff"/>
<rect x="520" y="386.65" width="1" height="4.05" fill="#fff"/>
<rect x="524.32" y="379.3" width="3.99" height="5.55" fill="#fff"/>
<rect x="526" y="386.65" width="1" height="4.05" fill="#fff"/>
<rect x="530.21" y="379.3" width="3.99" height="5.55" fill="#fff"/>
<rect x="532" y="386.65" width="1" height="4.05" fill="#fff"/>
<rect x="536.1" y="379.3" width="3.99" height="5.55" fill="#fff"/>
<rect x="538" y="386.65" width="1" height="4.05" fill="#fff"/>
<rect x="541.99" y="379.3" width="3.99" height="5.55" fill="#fff"/>
<rect x="544" y="386.65" width="1" height="4.05" fill="#fff"/>
<rect x="547.88" y="379.3" width="3.99" height="5.55" fill="#fff"/>
<rect x="550" y="379.3" width="1" height="11.4" fill="#fff"/>
<rect x="553.77" y="379.3" width="3.99" height="5.55" fill="#fff"/>
<rect x="555" y="386.65" width="1" height="4.05" fill="#fff"/>
<rect x="559.67" y="379.3" width="3.99" height="5.55" fill="#fff"/>
<rect x="561" y="386.65" width="1" height="4.05" fill="#fff"/>
<rect x="565.56" y="379.3" width="3.99" height="5.55" fill="#fff"/>
<rect x="567" y="386.65" width="1" height="4.05" fill="#fff"/>
<rect x="571.45" y="379.3" width="3.99" height="5.55" fill="#fff"/>
<rect x="573" y="386.65" width="1" height="4.05" fill="#fff"/>
<rect x="577.34" y="379.3" width="3.99" height="5.55" fill="#fff"/>
<rect x="579" y="386.65" width="1" height="4.05" fill="#fff"/>
<rect x="583.23" y="379.3" width="3.99" height="5.55" fill="#fff"/>
<rect x="585" y="386.65" width="1" height="4.05" fill="#fff"/>
<rect x="589.12" y="379.3" width="3.99" height="5.55" fill="#fff"/>
<rect x="591" y="386.65" width="1" height="4.05" fill="#fff"/>
<rect x="595.01" y="379.3" width="3.99" height="5.55" fill="#fff"/>
<rect x="597" y="386.65" width="1" height="4.05" fill="#fff"/>
<rect x="600.9" y="379.3" width="3.99" height="5.55" fill="#fff"/>
<rect x="603" y="379.3" width="1" height="11.4" fill="#fff"/>
<rect x="606.79" y="379.3" width="3.99" height="5.55" fill="#fff"/>
<rect x="608" y="386.65" width="1" height="4.05" fill="#fff"/>
<rect x="612.68" y="379.3" width="3.99" height="5.55" fill="#fff"/>
<rect x="614" y="386.65" width="1" height="4.05" fill="#fff"/>
<rect x="618.58" y="379.3" width="3.99" height="5.55" fill="#fff"/>
<rect x="620" y="386.65" width="1" height="4.05" fill="#fff"/>
<rect x="624.47" y="379.3" width="3.99" height="5.55" fill="#fff"/>
<rect x="626" y="386.65" width="1" height="4.05" fill="#fff"/>
<rect x="630.36" y="379.3" width="3.99" height="5.55" fill="#fff"/>
<rect x="632" y="379.3" width="1" height="11.4" fill="#fff"/>
<rect x="636.25" y="379.3" width="3.99" height="5.55" fill="#fff"/>
<rect x="638" y="386.65" width="1" height="4.05" fill="#fff"/>
<line x1="442.1" y1="380.2" x2="450.5" y2="380.2" stroke="#000" stroke-width="1"/>
<line x1="442.1" y1="387.7" x2="450.5" y2="387.7" stroke="#000" stroke-width="1"/>
<rect x="450.3" y="376.2" width="1" height="18.2" fill="#000"/>
<rect x="452.1" y="378.1" width="1.9" height="15.3" fill="#000"/>
<rect x="454.4" y="379.9" width="8.9" height="8.8" fill="#fff" stroke="#000" stroke-width="1"/>
<rect x="456.9" y="387.1" width="4.2" height="6" fill="#fff" stroke="#000" stroke-width="1"/>
<rect x="454.9" y="388.2" width="1.5" height="2" fill="#fff"/>
<rect x="454" y="389.2" width="2.4" height="1" fill="#000"/>
<rect x="657.5" y="378.1" width="2.6" height="16.3" fill="#000"/>
<rect x="661" y="378.7" width="0.8" height="15.7" fill="#000"/>
<rect x="661.5" y="380.7" width="6.6" height="6.5" fill="#fff" stroke="#000" stroke-width="1"/>
<rect x="661.5" y="387.2" width="6.6" height="6.7" fill="#fff" stroke="#000" stroke-width="1"/>
<rect x="648.6" y="380.7" width="8.5" height="9" fill="#fff" stroke="#000" stroke-width="1"/>
<rect x="650.8" y="388" width="5.4" height="5.4" fill="#fff" stroke="#000" stroke-width="1"/>
<rect x="442.6" y="395.8" width="224.7" height="17.3" fill="#fff" stroke="#000" stroke-width="1"/>
<rect x="468.1" y="397.5" width="175.9" height="13.4" fill="#000"/>
<rect x="469.3" y="398.9" width="0.8" height="5.3" fill="#fff"/>
<rect x="642" y="398.9" width="0.8" height="5.3" fill="#fff"/>
<rect x="471.3" y="398.4" width="3.99" height="5.6" fill="#fff"/>
<rect x="473" y="405.8" width="1" height="4.1" fill="#fff"/>
<rect x="477.19" y="398.4" width="3.99" height="5.6" fill="#fff"/>
<rect x="479" y="405.8" width="1" height="4.1" fill="#fff"/>
<rect x="483.08" y="398.4" width="3.99" height="5.6" fill="#fff"/>
<rect x="485" y="405.8" width="1" height="4.1" fill="#fff"/>
<rect x="488.97" y="398.4" width="3.99" height="5.6" fill="#fff"/>
<rect x="491" y="405.8" width="1" height="4.1" fill="#fff"/>
<rect x="494.86" y="398.4" width="3.99" height="5.6" fill="#fff"/>
<rect x="497" y="405.8" width="1" height="4.1" fill="#fff"/>
<rect x="500.75" y="398.4" width="3.99" height="5.6" fill="#fff"/>
<rect x="502" y="405.8" width="1" height="4.1" fill="#fff"/>
<rect x="506.65" y="398.4" width="3.99" height="5.6" fill="#fff"/>
<rect x="508" y="398.4" width="1" height="11.5" fill="#fff"/>
<rect x="512.54" y="398.4" width="3.99" height="5.6" fill="#fff"/>
<rect x="514" y="405.8" width="1" height="4.1" fill="#fff"/>
<rect x="518.43" y="398.4" width="3.99" height="5.6" fill="#fff"/>
<rect x="520" y="405.8" width="1" height="4.1" fill="#fff"/>
<rect x="524.32" y="398.4" width="3.99" height="5.6" fill="#fff"/>
<rect x="526" y="405.8" width="1" height="4.1" fill="#fff"/>
<rect x="530.21" y="398.4" width="3.99" height="5.6" fill="#fff"/>
<rect x="532" y="405.8" width="1" height="4.1" fill="#fff"/>
<rect x="536.1" y="398.4" width="3.99" height="5.6" fill="#fff"/>
<rect x="538" y="405.8" width="1" height="4.1" fill="#fff"/>
<rect x="541.99" y="398.4" width="3.99" height="5.6" fill="#fff"/>
<rect x="544" y="405.8" width="1" height="4.1" fill="#fff"/>
<rect x="547.88" y="398.4" width="3.99" height="5.6" fill="#fff"/>
<rect x="550" y="398.4" width="1" height="11.5" fill="#fff"/>
<rect x="553.77" y="398.4" width="3.99" height="5.6" fill="#fff"/>
<rect x="555" y="405.8" width="1" height="4.1" fill="#fff"/>
<rect x="559.67" y="398.4" width="3.99" height="5.6" fill="#fff"/>
<rect x="561" y="405.8" width="1" height="4.1" fill="#fff"/>
<rect x="565.56" y="398.4" width="3.99" height="5.6" fill="#fff"/>
<rect x="567" y="405.8" width="1" height="4.1" fill="#fff"/>
<rect x="571.45" y="398.4" width="3.99" height="5.6" fill="#fff"/>
<rect x="573" y="405.8" width="1" height="4.1" fill="#fff"/>
<rect x="577.34" y="398.4" width="3.99" height="5.6" fill="#fff"/>
<rect x="579" y="405.8" width="1" height="4.1" fill="#fff"/>
<rect x="583.23" y="398.4" width="3.99" height="5.6" fill="#fff"/>
<rect x="585" y="405.8" width="1" height="4.1" fill="#fff"/>
<rect x="589.12" y="398.4" width="3.99" height="5.6" fill="#fff"/>
<rect x="591" y="405.8" width="1" height="4.1" fill="#fff"/>
<rect x="595.01" y="398.4" width="3.99" height="5.6" fill="#fff"/>
<rect x="597" y="405.8" width="1" height="4.1" fill="#fff"/>
<rect x="600.9" y="398.4" width="3.99" height="5.6" fill="#fff"/>
<rect x="603" y="398.4" width="1" height="11.5" fill="#fff"/>
<rect x="606.79" y="398.4" width="3.99" height="5.6" fill="#fff"/>
<rect x="608" y="405.8" width="1" height="4.1" fill="#fff"/>
<rect x="612.68" y="398.4" width="3.99" height="5.6" fill="#fff"/>
<rect x="614" y="405.8" width="1" height="4.1" fill="#fff"/>
<rect x="618.58" y="398.4" width="3.99" height="5.6" fill="#fff"/>
<rect x="620" y="405.8" width="1" height="4.1" fill="#fff"/>
<rect x="624.47" y="398.4" width="3.99" height="5.6" fill="#fff"/>
<rect x="626" y="405.8" width="1" height="4.1" fill="#fff"/>
<rect x="630.36" y="398.4" width="3.99" height="5.6" fill="#fff"/>
<rect x="632" y="398.4" width="1" height="11.5" fill="#fff"/>
<rect x="636.25" y="398.4" width="3.99" height="5.6" fill="#fff"/>
<rect x="638" y="405.8" width="1" height="4.1" fill="#fff"/>
<line x1="442.1" y1="399.3" x2="450.5" y2="399.3" stroke="#000" stroke-width="1"/>
<line x1="442.1" y1="406.8" x2="450.5" y2="406.8" stroke="#000" stroke-width="1"/>
<rect x="450.3" y="395.3" width="1" height="18.3" fill="#000"/>
<rect x="452.1" y="397.2" width="1.9" height="15.4" fill="#000"/>
<rect x="454.4" y="399" width="8.9" height="8.8" fill="#fff" stroke="#000" stroke-width="1"/>
<rect x="456.9" y="406.2" width="4.2" height="6.1" fill="#fff" stroke="#000" stroke-width="1"/>
<rect x="454.9" y="407.3" width="1.5" height="2" fill="#fff"/>
<rect x="454" y="408.3" width="2.4" height="1" fill="#000"/>
<rect x="657.5" y="397.2" width="2.6" height="16.4" fill="#000"/>
<rect x="661" y="397.8" width="0.8" height="15.8" fill="#000"/>
<rect x="661.5" y="399.8" width="6.6" height="6.5" fill="#fff" stroke="#000" stroke-width="1"/>
<rect x="661.5" y="406.3" width="6.6" height="6.8" fill="#fff" stroke="#000" stroke-width="1"/>
<rect x="648.6" y="399.8" width="8.5" height="9" fill="#fff" stroke="#000" stroke-width="1"/>
<rect x="650.8" y="407.1" width="5.4" height="5.5" fill="#fff" stroke="#000" stroke-width="1"/>
<rect x="442.6" y="415.3" width="224.7" height="17.4" fill="#fff" stroke="#000" stroke-width="1"/>
<rect x="468.1" y="417.4" width="175.9" height="13" fill="#000"/>
<rect x="469.3" y="418.8" width="0.8" height="5.1" fill="#fff"/>
<rect x="642" y="418.8" width="0.8" height="5.1" fill="#fff"/>
<rect x="471.3" y="418.3" width="3.99" height="5.4" fill="#fff"/>
<rect x="473" y="425.5" width="1" height="3.9" fill="#fff"/>
<rect x="477.19" y="418.3" width="3.99" height="5.4" fill="#fff"/>
<rect x="479" y="425.5" width="1" height="3.9" fill="#fff"/>
<rect x="483.08" y="418.3" width="3.99" height="5.4" fill="#fff"/>
<rect x="485" y="425.5" width="1" height="3.9" fill="#fff"/>
<rect x="488.97" y="418.3" width="3.99" height="5.4" fill="#fff"/>
<rect x="491" y="425.5" width="1" height="3.9" fill="#fff"/>
<rect x="494.86" y="418.3" width="3.99" height="5.4" fill="#fff"/>
<rect x="497" y="425.5" width="1" height="3.9" fill="#fff"/>
<rect x="500.75" y="418.3" width="3.99" height="5.4" fill="#fff"/>
<rect x="502" y="425.5" width="1" height="3.9" fill="#fff"/>
<rect x="506.65" y="418.3" width="3.99" height="5.4" fill="#fff"/>
<rect x="508" y="418.3" width="1" height="11.1" fill="#fff"/>
<rect x="512.54" y="418.3" width="3.99" height="5.4" fill="#fff"/>
<rect x="514" y="425.5" width="1" height="3.9" fill="#fff"/>
<rect x="518.43" y="418.3" width="3.99" height="5.4" fill="#fff"/>
<rect x="520" y="425.5" width="1" height="3.9" fill="#fff"/>
<rect x="524.32" y="418.3" width="3.99" height="5.4" fill="#fff"/>
<rect x="526" y="425.5" width="1" height="3.9" fill="#fff"/>
<rect x="530.21" y="418.3" width="3.99" height="5.4" fill="#fff"/>
<rect x="532" y="425.5" width="1" height="3.9" fill="#fff"/>
<rect x="536.1" y="418.3" width="3.99" height="5.4" fill="#fff"/>
<rect x="538" y="425.5" width="1" height="3.9" fill="#fff"/>
<rect x="541.99" y="418.3" width="3.99" height="5.4" fill="#fff"/>
<rect x="544" y="425.5" width="1" height="3.9" fill="#fff"/>
<rect x="547.88" y="418.3" width="3.99" height="5.4" fill="#fff"/>
<rect x="550" y="418.3" width="1" height="11.1" fill="#fff"/>
<rect x="553.77" y="418.3" width="3.99" height="5.4" fill="#fff"/>
<rect x="555" y="425.5" width="1" height="3.9" fill="#fff"/>
<rect x="559.67" y="418.3" width="3.99" height="5.4" fill="#fff"/>
<rect x="561" y="425.5" width="1" height="3.9" fill="#fff"/>
<rect x="565.56" y="418.3" width="3.99" height="5.4" fill="#fff"/>
<rect x="567" y="425.5" width="1" height="3.9" fill="#fff"/>
<rect x="571.45" y="418.3" width="3.99" height="5.4" fill="#fff"/>
<rect x="573" y="425.5" width="1" height="3.9" fill="#fff"/>
<rect x="577.34" y="418.3" width="3.99" height="5.4" fill="#fff"/>
<rect x="579" y="425.5" width="1" height="3.9" fill="#fff"/>
<rect x="583.23" y="418.3" width="3.99" height="5.4" fill="#fff"/>
<rect x="585" y="425.5" width="1" height="3.9" fill="#fff"/>
<rect x="589.12" y="418.3" width="3.99" height="5.4" fill="#fff"/>
<rect x="591" y="425.5" width="1" height="3.9" fill="#fff"/>
<rect x="595.01" y="418.3" width="3.99" height="5.4" fill="#fff"/>
<rect x="597" y="425.5" width="1" height="3.9" fill="#fff"/>
<rect x="600.9" y="418.3" width="3.99" height="5.4" fill="#fff"/>
<rect x="603" y="418.3" width="1" height="11.1" fill="#fff"/>
<rect x="606.79" y="418.3" width="3.99" height="5.4" fill="#fff"/>
<rect x="608" y="425.5" width="1" height="3.9" fill="#fff"/>
<rect x="612.68" y="418.3" width="3.99" height="5.4" fill="#fff"/>
<rect x="614" y="425.5" width="1" height="3.9" fill="#fff"/>
<rect x="618.58" y="418.3" width="3.99" height="5.4" fill="#fff"/>
<rect x="620" y="425.5" width="1" height="3.9" fill="#fff"/>
<rect x="624.47" y="418.3" width="3.99" height="5.4" fill="#fff"/>
<rect x="626" y="425.5" width="1" height="3.9" fill="#fff"/>
<rect x="630.36" y="418.3" width="3.99" height="5.4" fill="#fff"/>
<rect x="632" y="418.3" width="1" height="11.1" fill="#fff"/>
<rect x="636.25" y="418.3" width="3.99" height="5.4" fill="#fff"/>
<rect x="638" y="425.5" width="1" height="3.9" fill="#fff"/>
<line x1="442.1" y1="418.8" x2="450.5" y2="418.8" stroke="#000" stroke-width="1"/>
<line x1="442.1" y1="426.3" x2="450.5" y2="426.3" stroke="#000" stroke-width="1"/>
<rect x="450.3" y="414.8" width="1" height="18.4" fill="#000"/>
<rect x="452.1" y="416.7" width="1.9" height="15.5" fill="#000"/>
<rect x="454.4" y="418.5" width="8.9" height="8.8" fill="#fff" stroke="#000" stroke-width="1"/>
<rect x="456.9" y="425.7" width="4.2" height="6.2" fill="#fff" stroke="#000" stroke-width="1"/>
<rect x="454.9" y="426.8" width="1.5" height="2" fill="#fff"/>
<rect x="454" y="427.8" width="2.4" height="1" fill="#000"/>
<rect x="657.5" y="416.7" width="2.6" height="16.5" fill="#000"/>
<rect x="661" y="417.3" width="0.8" height="15.9" fill="#000"/>
<rect x="661.5" y="419.3" width="6.6" height="6.5" fill="#fff" stroke="#000" stroke-width="1"/>
<rect x="661.5" y="425.8" width="6.6" height="6.9" fill="#fff" stroke="#000" stroke-width="1"/>
<rect x="648.6" y="419.3" width="8.5" height="9" fill="#fff" stroke="#000" stroke-width="1"/>
<rect x="650.8" y="426.6" width="5.4" height="5.6" fill="#fff" stroke="#000" stroke-width="1"/>
<rect x="442.6" y="439.7" width="224.7" height="18.3" fill="#fff" stroke="#000" stroke-width="1"/>
<rect x="468.1" y="441.3" width="175.9" height="14.4" fill="#000"/>
<rect x="469.3" y="442.7" width="0.8" height="5.8" fill="#fff"/>
<rect x="642" y="442.7" width="0.8" height="5.8" fill="#fff"/>
<rect x="471.3" y="442.2" width="3.99" height="6.1" fill="#fff"/>
<rect x="473" y="450.1" width="1" height="4.6" fill="#fff"/>
<rect x="477.19" y="442.2" width="3.99" height="6.1" fill="#fff"/>
<rect x="479" y="450.1" width="1" height="4.6" fill="#fff"/>
<rect x="483.08" y="442.2" width="3.99" height="6.1" fill="#fff"/>
<rect x="485" y="450.1" width="1" height="4.6" fill="#fff"/>
<rect x="488.97" y="442.2" width="3.99" height="6.1" fill="#fff"/>
<rect x="491" y="450.1" width="1" height="4.6" fill="#fff"/>
<rect x="494.86" y="442.2" width="3.99" height="6.1" fill="#fff"/>
<rect x="497" y="450.1" width="1" height="4.6" fill="#fff"/>
<rect x="500.75" y="442.2" width="3.99" height="6.1" fill="#fff"/>
<rect x="502" y="450.1" width="1" height="4.6" fill="#fff"/>
<rect x="506.65" y="442.2" width="3.99" height="6.1" fill="#fff"/>
<rect x="508" y="442.2" width="1" height="12.5" fill="#fff"/>
<rect x="512.54" y="442.2" width="3.99" height="6.1" fill="#fff"/>
<rect x="514" y="450.1" width="1" height="4.6" fill="#fff"/>
<rect x="518.43" y="442.2" width="3.99" height="6.1" fill="#fff"/>
<rect x="520" y="450.1" width="1" height="4.6" fill="#fff"/>
<rect x="524.32" y="442.2" width="3.99" height="6.1" fill="#fff"/>
<rect x="526" y="450.1" width="1" height="4.6" fill="#fff"/>
<rect x="530.21" y="442.2" width="3.99" height="6.1" fill="#fff"/>
<rect x="532" y="450.1" width="1" height="4.6" fill="#fff"/>
<rect x="536.1" y="442.2" width="3.99" height="6.1" fill="#fff"/>
<rect x="538" y="450.1" width="1" height="4.6" fill="#fff"/>
<rect x="541.99" y="442.2" width="3.99" height="6.1" fill="#fff"/>
<rect x="544" y="450.1" width="1" height="4.6" fill="#fff"/>
<rect x="547.88" y="442.2" width="3.99" height="6.1" fill="#fff"/>
<rect x="550" y="442.2" width="1" height="12.5" fill="#fff"/>
<rect x="553.77" y="442.2" width="3.99" height="6.1" fill="#fff"/>
<rect x="555" y="450.1" width="1" height="4.6" fill="#fff"/>
<rect x="559.67" y="442.2" width="3.99" height="6.1" fill="#fff"/>
<rect x="561" y="450.1" width="1" height="4.6" fill="#fff"/>
<rect x="565.56" y="442.2" width="3.99" height="6.1" fill="#fff"/>
<rect x="567" y="450.1" width="1" height="4.6" fill="#fff"/>
<rect x="571.45" y="442.2" width="3.99" height="6.1" fill="#fff"/>
<rect x="573" y="450.1" width="1" height="4.6" fill="#fff"/>
<rect x="577.34" y="442.2" width="3.99" height="6.1" fill="#fff"/>
<rect x="579" y="450.1" width="1" height="4.6" fill="#fff"/>
<rect x="583.23" y="442.2" width="3.99" height="6.1" fill="#fff"/>
<rect x="585" y="450.1" width="1" height="4.6" fill="#fff"/>
<rect x="589.12" y="442.2" width="3.99" height="6.1" fill="#fff"/>
<rect x="591" y="450.1" width="1" height="4.6" fill="#fff"/>
<rect x="595.01" y="442.2" width="3.99" height="6.1" fill="#fff"/>
<rect x="597" y="450.1" width="1" height="4.6" fill="#fff"/>
<rect x="600.9" y="442.2" width="3.99" height="6.1" fill="#fff"/>
<rect x="603" y="442.2" width="1" height="12.5" fill="#fff"/>
<rect x="606.79" y="442.2" width="3.99" height="6.1" fill="#fff"/>
<rect x="608" y="450.1" width="1" height="4.6" fill="#fff"/>
<rect x="612.68" y="442.2" width="3.99" height="6.1" fill="#fff"/>
<rect x="614" y="450.1" width="1" height="4.6" fill="#fff"/>
<rect x="618.58" y="442.2" width="3.99" height="6.1" fill="#fff"/>
<rect x="620" y="450.1" width="1" height="4.6" fill="#fff"/>
<rect x="624.47" y="442.2" width="3.99" height="6.1" fill="#fff"/>
<rect x="626" y="450.1" width="1" height="4.6" fill="#fff"/>
<rect x="630.36" y="442.2" width="3.99" height="6.1" fill="#fff"/>
<rect x="632" y="442.2" width="1" height="12.5" fill="#fff"/>
<rect x="636.25" y="442.2" width="3.99" height="6.1" fill="#fff"/>
<rect x="638" y="450.1" width="1" height="4.6" fill="#fff"/>
<line x1="442.1" y1="443.2" x2="450.5" y2="443.2" stroke="#000" stroke-width="1"/>
<line x1="442.1" y1="450.7" x2="450.5" y2="450.7" stroke="#000" stroke-width="1"/>
<rect x="450.3" y="439.2" width="1" height="19.3" fill="#000"/>
<rect x="452.1" y="441.1" width="1.9" height="16.4" fill="#000"/>
<rect x="454.4" y="442.9" width="8.9" height="8.8" fill="#fff" stroke="#000" stroke-width="1"/>
<rect x="456.9" y="450.1" width="4.2" height="7.1" fill="#fff" stroke="#000" stroke-width="1"/>
<rect x="454.9" y="451.2" width="1.5" height="2" fill="#fff"/>
<rect x="454" y="452.2" width="2.4" height="1" fill="#000"/>
<rect x="657.5" y="441.1" width="2.6" height="17.4" fill="#000"/>
<rect x="661" y="441.7" width="0.8" height="16.8" fill="#000"/>
<rect x="661.5" y="443.7" width="6.6" height="6.5" fill="#fff" stroke="#000" stroke-width="1"/>
<rect x="661.5" y="450.2" width="6.6" height="7.8" fill="#fff" stroke="#000" stroke-width="1"/>
<rect x="648.6" y="443.7" width="8.5" height="9" fill="#fff" stroke="#000" stroke-width="1"/>
<rect x="650.8" y="451" width="5.4" height="6.5" fill="#fff" stroke="#000" stroke-width="1"/>
<rect x="442.6" y="458" width="224.7" height="19.5" fill="#fff" stroke="#000" stroke-width="1"/>
<rect x="468.1" y="461.6" width="175.9" height="13.2" fill="#000"/>
<rect x="469.3" y="463" width="0.8" height="5.2" fill="#fff"/>
<rect x="642" y="463" width="0.8" height="5.2" fill="#fff"/>
<rect x="471.3" y="462.5" width="3.99" height="5.5" fill="#fff"/>
<rect x="473" y="469.8" width="1" height="4" fill="#fff"/>
<rect x="477.19" y="462.5" width="3.99" height="5.5" fill="#fff"/>
<rect x="479" y="469.8" width="1" height="4" fill="#fff"/>
<rect x="483.08" y="462.5" width="3.99" height="5.5" fill="#fff"/>
<rect x="485" y="469.8" width="1" height="4" fill="#fff"/>
<rect x="488.97" y="462.5" width="3.99" height="5.5" fill="#fff"/>
<rect x="491" y="469.8" width="1" height="4" fill="#fff"/>
<rect x="494.86" y="462.5" width="3.99" height="5.5" fill="#fff"/>
<rect x="497" y="469.8" width="1" height="4" fill="#fff"/>
<rect x="500.75" y="462.5" width="3.99" height="5.5" fill="#fff"/>
<rect x="502" y="469.8" width="1" height="4" fill="#fff"/>
<rect x="506.65" y="462.5" width="3.99" height="5.5" fill="#fff"/>
<rect x="508" y="462.5" width="1" height="11.3" fill="#fff"/>
<rect x="512.54" y="462.5" width="3.99" height="5.5" fill="#fff"/>
<rect x="514" y="469.8" width="1" height="4" fill="#fff"/>
<rect x="518.43" y="462.5" width="3.99" height="5.5" fill="#fff"/>
<rect x="520" y="469.8" width="1" height="4" fill="#fff"/>
<rect x="524.32" y="462.5" width="3.99" height="5.5" fill="#fff"/>
<rect x="526" y="469.8" width="1" height="4" fill="#fff"/>
<rect x="530.21" y="462.5" width="3.99" height="5.5" fill="#fff"/>
<rect x="532" y="469.8" width="1" height="4" fill="#fff"/>
<rect x="536.1" y="462.5" width="3.99" height="5.5" fill="#fff"/>
<rect x="538" y="469.8" width="1" height="4" fill="#fff"/>
<rect x="541.99" y="462.5" width="3.99" height="5.5" fill="#fff"/>
<rect x="544" y="469.8" width="1" height="4" fill="#fff"/>
<rect x="547.88" y="462.5" width="3.99" height="5.5" fill="#fff"/>
<rect x="550" y="462.5" width="1" height="11.3" fill="#fff"/>
<rect x="553.77" y="462.5" width="3.99" height="5.5" fill="#fff"/>
<rect x="555" y="469.8" width="1" height="4" fill="#fff"/>
<rect x="559.67" y="462.5" width="3.99" height="5.5" fill="#fff"/>
<rect x="561" y="469.8" width="1" height="4" fill="#fff"/>
<rect x="565.56" y="462.5" width="3.99" height="5.5" fill="#fff"/>
<rect x="567" y="469.8" width="1" height="4" fill="#fff"/>
<rect x="571.45" y="462.5" width="3.99" height="5.5" fill="#fff"/>
<rect x="573" y="469.8" width="1" height="4" fill="#fff"/>
<rect x="577.34" y="462.5" width="3.99" height="5.5" fill="#fff"/>
<rect x="579" y="469.8" width="1" height="4" fill="#fff"/>
<rect x="583.23" y="462.5" width="3.99" height="5.5" fill="#fff"/>
<rect x="585" y="469.8" width="1" height="4" fill="#fff"/>
<rect x="589.12" y="462.5" width="3.99" height="5.5" fill="#fff"/>
<rect x="591" y="469.8" width="1" height="4" fill="#fff"/>
<rect x="595.01" y="462.5" width="3.99" height="5.5" fill="#fff"/>
<rect x="597" y="469.8" width="1" height="4" fill="#fff"/>
<rect x="600.9" y="462.5" width="3.99" height="5.5" fill="#fff"/>
<rect x="603" y="462.5" width="1" height="11.3" fill="#fff"/>
<rect x="606.79" y="462.5" width="3.99" height="5.5" fill="#fff"/>
<rect x="608" y="469.8" width="1" height="4" fill="#fff"/>
<rect x="612.68" y="462.5" width="3.99" height="5.5" fill="#fff"/>
<rect x="614" y="469.8" width="1" height="4" fill="#fff"/>
<rect x="618.58" y="462.5" width="3.99" height="5.5" fill="#fff"/>
<rect x="620" y="469.8" width="1" height="4" fill="#fff"/>
<rect x="624.47" y="462.5" width="3.99" height="5.5" fill="#fff"/>
<rect x="626" y="469.8" width="1" height="4" fill="#fff"/>
<rect x="630.36" y="462.5" width="3.99" height="5.5" fill="#fff"/>
<rect x="632" y="462.5" width="1" height="11.3" fill="#fff"/>
<rect x="636.25" y="462.5" width="3.99" height="5.5" fill="#fff"/>
<rect x="638" y="469.8" width="1" height="4" fill="#fff"/>
<line x1="442.1" y1="462.7" x2="450.5" y2="462.7" stroke="#000" stroke-width="1"/>
<line x1="442.1" y1="470.2" x2="450.5" y2="470.2" stroke="#000" stroke-width="1"/>
<rect x="450.3" y="457.5" width="1" height="20.5" fill="#000"/>
<rect x="452.1" y="460.6" width="1.9" height="16.4" fill="#000"/>
<rect x="454.4" y="462.4" width="8.9" height="8.8" fill="#fff" stroke="#000" stroke-width="1"/>
<rect x="456.9" y="469.6" width="4.2" height="7.1" fill="#fff" stroke="#000" stroke-width="1"/>
<rect x="454.9" y="470.7" width="1.5" height="2" fill="#fff"/>
<rect x="454" y="471.7" width="2.4" height="1" fill="#000"/>
<rect x="657.5" y="460.6" width="2.6" height="17.4" fill="#000"/>
<rect x="661" y="461.2" width="0.8" height="16.8" fill="#000"/>
<rect x="661.5" y="463.2" width="6.6" height="6.5" fill="#fff" stroke="#000" stroke-width="1"/>
<rect x="661.5" y="469.7" width="6.6" height="7.8" fill="#fff" stroke="#000" stroke-width="1"/>
<rect x="648.6" y="463.2" width="8.5" height="9" fill="#fff" stroke="#000" stroke-width="1"/>
<rect x="650.8" y="470.5" width="5.4" height="6.5" fill="#fff" stroke="#000" stroke-width="1"/>
<rect x="442.6" y="477.5" width="224.7" height="19.2" fill="#fff" stroke="#000" stroke-width="1"/>
<rect x="468.1" y="480.8" width="175.9" height="13" fill="#000"/>
<rect x="469.3" y="482.2" width="0.8" height="5.1" fill="#fff"/>
<rect x="642" y="482.2" width="0.8" height="5.1" fill="#fff"/>
<rect x="471.3" y="481.7" width="3.99" height="5.4" fill="#fff"/>
<rect x="473" y="488.9" width="1" height="3.9" fill="#fff"/>
<rect x="477.19" y="481.7" width="3.99" height="5.4" fill="#fff"/>
<rect x="479" y="488.9" width="1" height="3.9" fill="#fff"/>
<rect x="483.08" y="481.7" width="3.99" height="5.4" fill="#fff"/>
<rect x="485" y="488.9" width="1" height="3.9" fill="#fff"/>
<rect x="488.97" y="481.7" width="3.99" height="5.4" fill="#fff"/>
<rect x="491" y="488.9" width="1" height="3.9" fill="#fff"/>
<rect x="494.86" y="481.7" width="3.99" height="5.4" fill="#fff"/>
<rect x="497" y="488.9" width="1" height="3.9" fill="#fff"/>
<rect x="500.75" y="481.7" width="3.99" height="5.4" fill="#fff"/>
<rect x="502" y="488.9" width="1" height="3.9" fill="#fff"/>
<rect x="506.65" y="481.7" width="3.99" height="5.4" fill="#fff"/>
<rect x="508" y="481.7" width="1" height="11.1" fill="#fff"/>
<rect x="512.54" y="481.7" width="3.99" height="5.4" fill="#fff"/>
<rect x="514" y="488.9" width="1" height="3.9" fill="#fff"/>
<rect x="518.43" y="481.7" width="3.99" height="5.4" fill="#fff"/>
<rect x="520" y="488.9" width="1" height="3.9" fill="#fff"/>
<rect x="524.32" y="481.7" width="3.99" height="5.4" fill="#fff"/>
<rect x="526" y="488.9" width="1" height="3.9" fill="#fff"/>
<rect x="530.21" y="481.7" width="3.99" height="5.4" fill="#fff"/>
<rect x="532" y="488.9" width="1" height="3.9" fill="#fff"/>
<rect x="536.1" y="481.7" width="3.99" height="5.4" fill="#fff"/>
<rect x="538" y="488.9" width="1" height="3.9" fill="#fff"/>
<rect x="541.99" y="481.7" width="3.99" height="5.4" fill="#fff"/>
<rect x="544" y="488.9" width="1" height="3.9" fill="#fff"/>
<rect x="547.88" y="481.7" width="3.99" height="5.4" fill="#fff"/>
<rect x="550" y="481.7" width="1" height="11.1" fill="#fff"/>
<rect x="553.77" y="481.7" width="3.99" height="5.4" fill="#fff"/>
<rect x="555" y="488.9" width="1" height="3.9" fill="#fff"/>
<rect x="559.67" y="481.7" width="3.99" height="5.4" fill="#fff"/>
<rect x="561" y="488.9" width="1" height="3.9" fill="#fff"/>
<rect x="565.56" y="481.7" width="3.99" height="5.4" fill="#fff"/>
<rect x="567" y="488.9" width="1" height="3.9" fill="#fff"/>
<rect x="571.45" y="481.7" width="3.99" height="5.4" fill="#fff"/>
<rect x="573" y="488.9" width="1" height="3.9" fill="#fff"/>
<rect x="577.34" y="481.7" width="3.99" height="5.4" fill="#fff"/>
<rect x="579" y="488.9" width="1" height="3.9" fill="#fff"/>
<rect x="583.23" y="481.7" width="3.99" height="5.4" fill="#fff"/>
<rect x="585" y="488.9" width="1" height="3.9" fill="#fff"/>
<rect x="589.12" y="481.7" width="3.99" height="5.4" fill="#fff"/>
<rect x="591" y="488.9" width="1" height="3.9" fill="#fff"/>
<rect x="595.01" y="481.7" width="3.99" height="5.4" fill="#fff"/>
<rect x="597" y="488.9" width="1" height="3.9" fill="#fff"/>
<rect x="600.9" y="481.7" width="3.99" height="5.4" fill="#fff"/>
<rect x="603" y="481.7" width="1" height="11.1" fill="#fff"/>
<rect x="606.79" y="481.7" width="3.99" height="5.4" fill="#fff"/>
<rect x="608" y="488.9" width="1" height="3.9" fill="#fff"/>
<rect x="612.68" y="481.7" width="3.99" height="5.4" fill="#fff"/>
<rect x="614" y="488.9" width="1" height="3.9" fill="#fff"/>
<rect x="618.58" y="481.7" width="3.99" height="5.4" fill="#fff"/>
<rect x="620" y="488.9" width="1" height="3.9" fill="#fff"/>
<rect x="624.47" y="481.7" width="3.99" height="5.4" fill="#fff"/>
<rect x="626" y="488.9" width="1" height="3.9" fill="#fff"/>
<rect x="630.36" y="481.7" width="3.99" height="5.4" fill="#fff"/>
<rect x="632" y="481.7" width="1" height="11.1" fill="#fff"/>
<rect x="636.25" y="481.7" width="3.99" height="5.4" fill="#fff"/>
<rect x="638" y="488.9" width="1" height="3.9" fill="#fff"/>
<line x1="442.1" y1="482.2" x2="450.5" y2="482.2" stroke="#000" stroke-width="1"/>
<line x1="442.1" y1="489.7" x2="450.5" y2="489.7" stroke="#000" stroke-width="1"/>
<rect x="450.3" y="477" width="1" height="20.2" fill="#000"/>
<rect x="452.1" y="480.1" width="1.9" height="16.1" fill="#000"/>
<rect x="454.4" y="481.9" width="8.9" height="8.8" fill="#fff" stroke="#000" stroke-width="1"/>
<rect x="456.9" y="489.1" width="4.2" height="6.8" fill="#fff" stroke="#000" stroke-width="1"/>
<rect x="454.9" y="490.2" width="1.5" height="2" fill="#fff"/>
<rect x="454" y="491.2" width="2.4" height="1" fill="#000"/>
<rect x="657.5" y="480.1" width="2.6" height="17.1" fill="#000"/>
<rect x="661" y="480.7" width="0.8" height="16.5" fill="#000"/>
<rect x="661.5" y="482.7" width="6.6" height="6.5" fill="#fff" stroke="#000" stroke-width="1"/>
<rect x="661.5" y="489.2" width="6.6" height="7.5" fill="#fff" stroke="#000" stroke-width="1"/>
<rect x="648.6" y="482.7" width="8.5" height="9" fill="#fff" stroke="#000" stroke-width="1"/>
<rect x="650.8" y="490" width="5.4" height="6.2" fill="#fff" stroke="#000" stroke-width="1"/>
<rect x="442.6" y="496.7" width="224.7" height="18" fill="#fff" stroke="#000" stroke-width="1"/>
<rect x="468.1" y="500" width="175.9" height="13.3" fill="#000"/>
<rect x="469.3" y="501.4" width="0.8" height="5.25" fill="#fff"/>
<rect x="642" y="501.4" width="0.8" height="5.25" fill="#fff"/>
<rect x="471.3" y="500.9" width="3.99" height="5.55" fill="#fff"/>
<rect x="473" y="508.25" width="1" height="4.05" fill="#fff"/>
<rect x="477.19" y="500.9" width="3.99" height="5.55" fill="#fff"/>
<rect x="479" y="508.25" width="1" height="4.05" fill="#fff"/>
<rect x="483.08" y="500.9" width="3.99" height="5.55" fill="#fff"/>
<rect x="485" y="508.25" width="1" height="4.05" fill="#fff"/>
<rect x="488.97" y="500.9" width="3.99" height="5.55" fill="#fff"/>
<rect x="491" y="508.25" width="1" height="4.05" fill="#fff"/>
<rect x="494.86" y="500.9" width="3.99" height="5.55" fill="#fff"/>
<rect x="497" y="508.25" width="1" height="4.05" fill="#fff"/>
<rect x="500.75" y="500.9" width="3.99" height="5.55" fill="#fff"/>
<rect x="502" y="508.25" width="1" height="4.05" fill="#fff"/>
<rect x="506.65" y="500.9" width="3.99" height="5.55" fill="#fff"/>
<rect x="508" y="500.9" width="1" height="11.4" fill="#fff"/>
<rect x="512.54" y="500.9" width="3.99" height="5.55" fill="#fff"/>
<rect x="514" y="508.25" width="1" height="4.05" fill="#fff"/>
<rect x="518.43" y="500.9" width="3.99" height="5.55" fill="#fff"/>
<rect x="520" y="508.25" width="1" height="4.05" fill="#fff"/>
<rect x="524.32" y="500.9" width="3.99" height="5.55" fill="#fff"/>
<rect x="526" y="508.25" width="1" height="4.05" fill="#fff"/>
<rect x="530.21" y="500.9" width="3.99" height="5.55" fill="#fff"/>
<rect x="532" y="508.25" width="1" height="4.05" fill="#fff"/>
<rect x="536.1" y="500.9" width="3.99" height="5.55" fill="#fff"/>
<rect x="538" y="508.25" width="1" height="4.05" fill="#fff"/>
<rect x="541.99" y="500.9" width="3.99" height="5.55" fill="#fff"/>
<rect x="544" y="508.25" width="1" height="4.05" fill="#fff"/>
<rect x="547.88" y="500.9" width="3.99" height="5.55" fill="#fff"/>
<rect x="550" y="500.9" width="1" height="11.4" fill="#fff"/>
<rect x="553.77" y="500.9" width="3.99" height="5.55" fill="#fff"/>
<rect x="555" y="508.25" width="1" height="4.05" fill="#fff"/>
<rect x="559.67" y="500.9" width="3.99" height="5.55" fill="#fff"/>
<rect x="561" y="508.25" width="1" height="4.05" fill="#fff"/>
<rect x="565.56" y="500.9" width="3.99" height="5.55" fill="#fff"/>
<rect x="567" y="508.25" width="1" height="4.05" fill="#fff"/>
<rect x="571.45" y="500.9" width="3.99" height="5.55" fill="#fff"/>
<rect x="573" y="508.25" width="1" height="4.05" fill="#fff"/>
<rect x="577.34" y="500.9" width="3.99" height="5.55" fill="#fff"/>
<rect x="579" y="508.25" width="1" height="4.05" fill="#fff"/>
<rect x="583.23" y="500.9" width="3.99" height="5.55" fill="#fff"/>
<rect x="585" y="508.25" width="1" height="4.05" fill="#fff"/>
<rect x="589.12" y="500.9" width="3.99" height="5.55" fill="#fff"/>
<rect x="591" y="508.25" width="1" height="4.05" fill="#fff"/>
<rect x="595.01" y="500.9" width="3.99" height="5.55" fill="#fff"/>
<rect x="597" y="508.25" width="1" height="4.05" fill="#fff"/>
<rect x="600.9" y="500.9" width="3.99" height="5.55" fill="#fff"/>
<rect x="603" y="500.9" width="1" height="11.4" fill="#fff"/>
<rect x="606.79" y="500.9" width="3.99" height="5.55" fill="#fff"/>
<rect x="608" y="508.25" width="1" height="4.05" fill="#fff"/>
<rect x="612.68" y="500.9" width="3.99" height="5.55" fill="#fff"/>
<rect x="614" y="508.25" width="1" height="4.05" fill="#fff"/>
<rect x="618.58" y="500.9" width="3.99" height="5.55" fill="#fff"/>
<rect x="620" y="508.25" width="1" height="4.05" fill="#fff"/>
<rect x="624.47" y="500.9" width="3.99" height="5.55" fill="#fff"/>
<rect x="626" y="508.25" width="1" height="4.05" fill="#fff"/>
<rect x="630.36" y="500.9" width="3.99" height="5.55" fill="#fff"/>
<rect x="632" y="500.9" width="1" height="11.4" fill="#fff"/>
<rect x="636.25" y="500.9" width="3.99" height="5.55" fill="#fff"/>
<rect x="638" y="508.25" width="1" height="4.05" fill="#fff"/>
<line x1="442.1" y1="501.4" x2="450.5" y2="501.4" stroke="#000" stroke-width="1"/>
<line x1="442.1" y1="508.9" x2="450.5" y2="508.9" stroke="#000" stroke-width="1"/>
<rect x="450.3" y="496.2" width="1" height="19" fill="#000"/>
<rect x="452.1" y="499.3" width="1.9" height="14.9" fill="#000"/>
<rect x="454.4" y="501.1" width="8.9" height="8.8" fill="#fff" stroke="#000" stroke-width="1"/>
<rect x="456.9" y="508.3" width="4.2" height="5.6" fill="#fff" stroke="#000" stroke-width="1"/>
<rect x="454.9" y="509.4" width="1.5" height="2" fill="#fff"/>
<rect x="454" y="510.4" width="2.4" height="1" fill="#000"/>
<rect x="657.5" y="499.3" width="2.6" height="15.9" fill="#000"/>
<rect x="661" y="499.9" width="0.8" height="15.3" fill="#000"/>
<rect x="661.5" y="501.9" width="6.6" height="6.5" fill="#fff" stroke="#000" stroke-width="1"/>
<rect x="661.5" y="508.4" width="6.6" height="6.3" fill="#fff" stroke="#000" stroke-width="1"/>
<rect x="648.6" y="501.9" width="8.5" height="9" fill="#fff" stroke="#000" stroke-width="1"/>
<rect x="650.8" y="509.2" width="5.4" height="5" fill="#fff" stroke="#000" stroke-width="1"/>
<rect x="527.15" y="387.45" width="56.8" height="16" rx="3.2" fill="#fff" stroke="#000" stroke-width="1.5"/>
<line x1="529.1" y1="402.9" x2="582" y2="402.9" stroke="#000" stroke-width="2.6"/>
<text transform="translate(531.9 398.7) scale(0.72 1)" font-size="13.66" letter-spacing="3.22" fill="#000">BANK 0</text>
<rect x="527.15" y="470.45" width="56.8" height="16" rx="3.2" fill="#fff" stroke="#000" stroke-width="1.5"/>
<line x1="529.1" y1="485.9" x2="582" y2="485.9" stroke="#000" stroke-width="2.6"/>
<text transform="translate(531.9 481.7) scale(0.72 1)" font-size="13.66" letter-spacing="2.95" fill="#000">BANK 1</text>
<rect x="417.4" y="371.8" width="13.6" height="46.8" fill="#000"/>
<rect x="412.3" y="395.6" width="5.3" height="23" fill="#000"/>
<rect x="418.6" y="373.4" width="1" height="3.6" fill="#fff"/>
<rect x="428.6" y="373.4" width="1" height="3.6" fill="#fff"/>
<rect x="423.4" y="373" width="1" height="4.4" fill="#fff"/>
<rect x="418.6" y="378.5" width="1" height="3.6" fill="#fff"/>
<rect x="428.6" y="378.5" width="1" height="3.6" fill="#fff"/>
<rect x="423.4" y="378.1" width="1" height="4.4" fill="#fff"/>
<rect x="418.6" y="383.6" width="1" height="3.6" fill="#fff"/>
<rect x="428.6" y="383.6" width="1" height="3.6" fill="#fff"/>
<rect x="423.4" y="383.2" width="1" height="4.4" fill="#fff"/>
<rect x="418.6" y="388.7" width="1" height="3.6" fill="#fff"/>
<rect x="428.6" y="388.7" width="1" height="3.6" fill="#fff"/>
<rect x="423.4" y="388.3" width="1" height="4.4" fill="#fff"/>
<rect x="418.6" y="393.8" width="1" height="3.6" fill="#fff"/>
<rect x="428.6" y="393.8" width="1" height="3.6" fill="#fff"/>
<rect x="423.4" y="393.4" width="1" height="4.4" fill="#fff"/>
<rect x="418.6" y="398.9" width="1" height="3.6" fill="#fff"/>
<rect x="428.6" y="398.9" width="1" height="3.6" fill="#fff"/>
<rect x="423.4" y="398.5" width="1" height="4.4" fill="#fff"/>
<rect x="418.6" y="404" width="1" height="3.6" fill="#fff"/>
<rect x="428.6" y="404" width="1" height="3.6" fill="#fff"/>
<rect x="423.4" y="403.6" width="1" height="4.4" fill="#fff"/>
<rect x="418.6" y="409.1" width="1" height="3.2" fill="#fff"/>
<rect x="428.6" y="409.1" width="1" height="3.2" fill="#fff"/>
<rect x="423.4" y="408.7" width="1" height="4" fill="#fff"/>
<rect x="413.6" y="397" width="2.6" height="3.2" fill="#fff"/>
<rect x="413.6" y="402.6" width="2.6" height="3.2" fill="#fff"/>
<rect x="413.6" y="408.2" width="2.6" height="3.2" fill="#fff"/>
<rect x="413.3" y="412.6" width="16.7" height="0.9" fill="#fff"/>
<rect x="413.6" y="414.6" width="3" height="2.8" fill="#fff"/>
<rect x="418.4" y="413.5" width="0.8" height="4.1" fill="#fff"/>
<rect x="423.6" y="413.5" width="0.8" height="4.1" fill="#fff"/>
<path d="M422.6 354.9L425 366L428.2 354.9Z" fill="#fff" stroke="none" stroke-width="1"/>
<path d="M422.6 354.9L425 366L428.2 354.9" fill="none" stroke="#000" stroke-width="2.4" stroke-linejoin="miter"/>
<line x1="425" y1="366" x2="425" y2="371.8" stroke="#000" stroke-width="2"/>
<rect x="409.9" y="336.7" width="32.3" height="17.4" rx="3.2" fill="#fff" stroke="#000" stroke-width="1.6"/>
<line x1="411.8" y1="337.3" x2="440.3" y2="337.3" stroke="#000" stroke-width="2.8"/>
<line x1="411.8" y1="353.5" x2="440.3" y2="353.5" stroke="#000" stroke-width="2.8"/>
<line x1="441.6" y1="338.6" x2="441.6" y2="352.2" stroke="#000" stroke-width="2.8"/>
<path d="M439.8 337.3Q441.6 337.3 441.6 339.1" fill="none" stroke="#000" stroke-width="2.8"/>
<path d="M439.8 353.5Q441.6 353.5 441.6 351.7" fill="none" stroke="#000" stroke-width="2.8"/>
<rect x="423.5" y="351.8" width="3.8" height="3.4" fill="#fff"/>
<text transform="translate(412.4 349.8) scale(0.72 1)" font-size="13.81" letter-spacing="1.92" fill="#000">W11</text>
<path d="M407.3 374.7L416.2 379.8L410.4 371Z" fill="#fff" stroke="none" stroke-width="1"/>
<path d="M407.3 374.7L416.2 379.8L410.4 371" fill="none" stroke="#000" stroke-width="2.4" stroke-linejoin="miter"/>
<line x1="416.2" y1="379.8" x2="417.6" y2="380.8" stroke="#000" stroke-width="2"/>
<rect x="377.2" y="357.1" width="32.4" height="16.8" rx="3.2" fill="#fff" stroke="#000" stroke-width="1.6"/>
<line x1="379.1" y1="357.7" x2="407.7" y2="357.7" stroke="#000" stroke-width="2.8"/>
<line x1="377.8" y1="359" x2="377.8" y2="372" stroke="#000" stroke-width="2.8"/>
<path d="M379.6 357.7Q377.8 357.7 377.8 359.5" fill="none" stroke="#000" stroke-width="2.8"/>
<text transform="translate(379.6 370) scale(0.72 1)" font-size="13.08" letter-spacing="4.68" fill="#000">W10</text>
<path d="M407.3 387L415.4 392.6L404 393.7Z" fill="#fff" stroke="none" stroke-width="1"/>
<path d="M407.3 387L415.4 392.6L404 393.7" fill="none" stroke="#000" stroke-width="2.4" stroke-linejoin="miter"/>
<line x1="415.4" y1="392.6" x2="417.4" y2="392.6" stroke="#000" stroke-width="2"/>
<rect x="381.3" y="376.2" width="25.2" height="16.7" rx="3.2" fill="#fff" stroke="#000" stroke-width="1.6"/>
<line x1="383.2" y1="392.3" x2="404.6" y2="392.3" stroke="#000" stroke-width="2.8"/>
<line x1="381.9" y1="378.1" x2="381.9" y2="391" stroke="#000" stroke-width="2.8"/>
<path d="M383.7 392.3Q381.9 392.3 381.9 390.5" fill="none" stroke="#000" stroke-width="2.8"/>
<text transform="translate(384 389.3) scale(0.72 1)" font-size="13.95" letter-spacing="1.81" fill="#000">W8</text>
<path d="M398 403.4L410.8 397.6L403.7 407.6Z" fill="#fff" stroke="none" stroke-width="1"/>
<path d="M398 403.4L410.8 397.6L403.7 407.6" fill="none" stroke="#000" stroke-width="2.4" stroke-linejoin="miter"/>
<line x1="410.8" y1="397.6" x2="412.4" y2="396.4" stroke="#000" stroke-width="2"/>
<rect x="379.8" y="404.2" width="23.1" height="17" rx="3.2" fill="#fff" stroke="#000" stroke-width="1.6"/>
<line x1="381.7" y1="420.6" x2="401" y2="420.6" stroke="#000" stroke-width="2.8"/>
<line x1="380.4" y1="406.1" x2="380.4" y2="419.3" stroke="#000" stroke-width="2.8"/>
<path d="M382.2 420.6Q380.4 420.6 380.4 418.8" fill="none" stroke="#000" stroke-width="2.8"/>
<text transform="translate(382.6 418.1) scale(0.72 1)" font-size="13.81" letter-spacing="1.63" fill="#000">W7</text>
<path d="M439.1 375.2L433.5 386.8L443.4 379.5Z" fill="#fff" stroke="none" stroke-width="1"/>
<path d="M439.1 375.2L433.5 386.8L443.4 379.5" fill="none" stroke="#000" stroke-width="2.4" stroke-linejoin="miter"/>
<line x1="433.5" y1="386.8" x2="432.2" y2="388" stroke="#000" stroke-width="2"/>
<rect x="439.9" y="363.5" width="21.4" height="15.2" rx="3.2" fill="#fff" stroke="#000" stroke-width="1.6"/>
<line x1="441.8" y1="364.1" x2="459.4" y2="364.1" stroke="#000" stroke-width="2.8"/>
<line x1="440.5" y1="365.4" x2="440.5" y2="376.8" stroke="#000" stroke-width="2.8"/>
<path d="M442.3 364.1Q440.5 364.1 440.5 365.9" fill="none" stroke="#000" stroke-width="2.8"/>
<text transform="translate(442.8 375.9) scale(0.72 1)" font-size="13.66" letter-spacing="2.33" fill="#000">W9</text>
<path d="M447.5 399.5L436.5 403.6L447.5 408.1Z" fill="#fff" stroke="none" stroke-width="1"/>
<path d="M447.5 399.5L436.5 403.6L447.5 408.1" fill="none" stroke="#000" stroke-width="2.4" stroke-linejoin="miter"/>
<line x1="436.5" y1="403.6" x2="432.2" y2="403.6" stroke="#000" stroke-width="2"/>
<rect x="448.3" y="395.8" width="23.3" height="15.4" rx="3.2" fill="#fff" stroke="#000" stroke-width="1.6"/>
<line x1="450.2" y1="410.6" x2="469.7" y2="410.6" stroke="#000" stroke-width="2.8"/>
<line x1="448.9" y1="397.7" x2="448.9" y2="409.3" stroke="#000" stroke-width="2.8"/>
<path d="M450.7 410.6Q448.9 410.6 448.9 408.8" fill="none" stroke="#000" stroke-width="2.8"/>
<rect x="447.2" y="400.4" width="3.4" height="6.8" fill="#fff"/>
<text transform="translate(451.8 407.9) scale(0.72 1)" font-size="13.95" letter-spacing="0.98" fill="#000">W6</text>
<path d="M439 420.4L434.2 411.2L444.4 415.7Z" fill="#fff" stroke="none" stroke-width="1"/>
<path d="M439 420.4L434.2 411.2L444.4 415.7" fill="none" stroke="#000" stroke-width="2.4" stroke-linejoin="miter"/>
<line x1="434.2" y1="411.2" x2="432.6" y2="409.8" stroke="#000" stroke-width="2.6"/>
<rect x="439.8" y="416.5" width="23.3" height="17.8" rx="3.2" fill="#fff" stroke="#000" stroke-width="1.6"/>
<line x1="441.7" y1="433.7" x2="461.2" y2="433.7" stroke="#000" stroke-width="2.8"/>
<line x1="440.4" y1="418.4" x2="440.4" y2="432.4" stroke="#000" stroke-width="2.8"/>
<path d="M442.2 433.7Q440.4 433.7 440.4 431.9" fill="none" stroke="#000" stroke-width="2.8"/>
<text transform="translate(442.7 429.7) scale(0.72 1)" font-size="13.37" letter-spacing="3.3" fill="#000">W5</text>
<path d="M419.7 435.1L422.6 428.5L426.1 435.1Z" fill="#fff" stroke="none" stroke-width="1"/>
<path d="M419.7 435.1L422.6 428.5L426.1 435.1" fill="none" stroke="#000" stroke-width="2.4" stroke-linejoin="miter"/>
<line x1="422.6" y1="428.5" x2="422.6" y2="418.6" stroke="#000" stroke-width="3"/>
<rect x="410.1" y="435.9" width="23.3" height="16.1" rx="3.2" fill="#fff" stroke="#000" stroke-width="1.6"/>
<line x1="412" y1="451.4" x2="431.5" y2="451.4" stroke="#000" stroke-width="2.8"/>
<line x1="410.7" y1="437.8" x2="410.7" y2="450.1" stroke="#000" stroke-width="2.8"/>
<path d="M412.5 451.4Q410.7 451.4 410.7 449.6" fill="none" stroke="#000" stroke-width="2.8"/>
<rect x="420.6" y="434.8" width="4.6" height="2.2" fill="#fff"/>
<text transform="translate(412.5 449.1) scale(0.72 1)" font-size="13.23" letter-spacing="3.71" fill="#000">W4</text>
<path d="M751.4 374.3H772.6Q775 374.5 775.2 377 L774.6 380 L775.8 383.5 L774.8 388 L775.4 392 L774.4 397 L775.4 402 L774.8 407 L775.6 411 Q775.2 414.4 772.8 414.4 H751.4 Q748.4 414.2 748.6 411 L749.4 406 L748.4 401 L749.6 396 L748.4 391 L749.4 386 L748.4 381 L749.2 377.5 Q749 374.6 751.4 374.3Z" fill="#fff" stroke="#000" stroke-width="1"/>
<rect x="738" y="423" width="26" height="7" fill="#000"/>
<rect x="739" y="424" width="0.7" height="5" fill="#fff"/>
<rect x="743.9" y="424" width="0.9" height="5" fill="#fff"/>
<rect x="749" y="424" width="0.9" height="5" fill="#fff"/>
<rect x="754.2" y="424" width="2.2" height="5" fill="#fff"/>
<rect x="762.4" y="424" width="0.6" height="5" fill="#fff"/>
<rect x="739" y="428" width="17.4" height="1" fill="#fff"/>
<rect x="758" y="425" width="3" height="3" fill="#fff"/>
<path d="M756 439.6H780.1V434H787V484H783.5V482H780.1V476.8H756V470.8H753.2V446H756Z" fill="#000" stroke="none" stroke-width="1"/>
<rect x="749.7" y="449.4" width="3.2" height="6.3" fill="#fff" stroke="#000" stroke-width="1"/>
<rect x="749.7" y="460.7" width="3.2" height="7.6" fill="#fff" stroke="#000" stroke-width="1"/>
<rect x="753.6" y="456.4" width="2" height="4.2" fill="#fff"/>
<path d="M778 423.6L768 426.4L778 429.6Z" fill="#fff" stroke="none" stroke-width="1"/>
<path d="M778 423.6L768 426.4L778 429.6" fill="none" stroke="#000" stroke-width="2.4" stroke-linejoin="miter"/>
<line x1="768" y1="426.4" x2="764" y2="426.4" stroke="#000" stroke-width="2"/>
<rect x="778.8" y="416.7" width="24.4" height="17.4" rx="3.2" fill="#fff" stroke="#000" stroke-width="1.6"/>
<line x1="780.7" y1="417.3" x2="801.3" y2="417.3" stroke="#000" stroke-width="2.8"/>
<line x1="802.6" y1="418.6" x2="802.6" y2="432.2" stroke="#000" stroke-width="2.8"/>
<path d="M800.8 417.3Q802.6 417.3 802.6 419.1" fill="none" stroke="#000" stroke-width="2.8"/>
<rect x="777.7" y="424.5" width="2.2" height="4.2" fill="#fff"/>
<text transform="translate(785 430.2) scale(0.72 1)" font-size="13.81" letter-spacing="0.79" fill="#000">J1</text>
<rect x="710.55" y="401.65" width="23.9" height="110.8" fill="#fff" stroke="#000" stroke-width="1.1"/>
<rect x="713.8" y="406.6" width="6.4" height="6.4" fill="#fff" stroke="#000" stroke-width="1"/>
<rect x="722.2" y="402.3" width="1.6" height="6.2" fill="#000"/>
<rect x="727" y="402.3" width="4" height="6.2" fill="#000"/>
<rect x="731" y="403.3" width="1" height="4.2" fill="#000"/>
<rect x="729.2" y="403.3" width="1.2" height="4.2" fill="#fff"/>
<rect x="713.8" y="416.5" width="6.4" height="6.4" fill="#fff" stroke="#000" stroke-width="1"/>
<rect x="722.2" y="412.2" width="1.6" height="6.2" fill="#000"/>
<rect x="727" y="412.2" width="4" height="6.2" fill="#000"/>
<rect x="731" y="413.2" width="1" height="4.2" fill="#000"/>
<rect x="729.2" y="413.2" width="1.2" height="4.2" fill="#fff"/>
<rect x="713.8" y="426.1" width="6.4" height="6.4" fill="#fff" stroke="#000" stroke-width="1"/>
<rect x="722.2" y="421.8" width="1.6" height="6.2" fill="#000"/>
<rect x="727" y="421.8" width="4" height="6.2" fill="#000"/>
<rect x="731" y="422.8" width="1" height="4.2" fill="#000"/>
<rect x="729.2" y="422.8" width="1.2" height="4.2" fill="#fff"/>
<rect x="713.8" y="435.7" width="6.4" height="6.4" fill="#fff" stroke="#000" stroke-width="1"/>
<rect x="722.2" y="431.4" width="1.6" height="6.2" fill="#000"/>
<rect x="727" y="431.4" width="4" height="6.2" fill="#000"/>
<rect x="731" y="432.4" width="1" height="4.2" fill="#000"/>
<rect x="729.2" y="432.4" width="1.2" height="4.2" fill="#fff"/>
<rect x="713.8" y="444.6" width="6.4" height="6.4" fill="#fff" stroke="#000" stroke-width="1"/>
<rect x="722.2" y="440.3" width="1.6" height="6.2" fill="#000"/>
<rect x="727" y="440.3" width="4" height="6.2" fill="#000"/>
<rect x="731" y="441.3" width="1" height="4.2" fill="#000"/>
<rect x="729.2" y="441.3" width="1.2" height="4.2" fill="#fff"/>
<rect x="713.8" y="453.8" width="6.4" height="6.4" fill="#fff" stroke="#000" stroke-width="1"/>
<rect x="722.2" y="449.5" width="1.6" height="6.2" fill="#000"/>
<rect x="727" y="449.5" width="4" height="6.2" fill="#000"/>
<rect x="731" y="450.5" width="1" height="4.2" fill="#000"/>
<rect x="729.2" y="450.5" width="1.2" height="4.2" fill="#fff"/>
<rect x="713.8" y="462.9" width="6.4" height="6.4" fill="#fff" stroke="#000" stroke-width="1"/>
<rect x="722.2" y="458.6" width="1.6" height="6.2" fill="#000"/>
<rect x="727" y="458.6" width="4" height="6.2" fill="#000"/>
<rect x="731" y="459.6" width="1" height="4.2" fill="#000"/>
<rect x="729.2" y="459.6" width="1.2" height="4.2" fill="#fff"/>
<rect x="713.8" y="472.3" width="6.4" height="6.4" fill="#fff" stroke="#000" stroke-width="1"/>
<rect x="722.2" y="468" width="1.6" height="6.2" fill="#000"/>
<rect x="727" y="468" width="4" height="6.2" fill="#000"/>
<rect x="731" y="469" width="1" height="4.2" fill="#000"/>
<rect x="729.2" y="469" width="1.2" height="4.2" fill="#fff"/>
<rect x="713.8" y="481.7" width="6.4" height="6.4" fill="#fff" stroke="#000" stroke-width="1"/>
<rect x="722.2" y="477.4" width="1.6" height="6.2" fill="#000"/>
<rect x="727" y="477.4" width="4" height="6.2" fill="#000"/>
<rect x="731" y="478.4" width="1" height="4.2" fill="#000"/>
<rect x="729.2" y="478.4" width="1.2" height="4.2" fill="#fff"/>
<rect x="713.8" y="491.3" width="6.4" height="6.4" fill="#fff" stroke="#000" stroke-width="1"/>
<rect x="722.2" y="487" width="1.6" height="6.2" fill="#000"/>
<rect x="727" y="487" width="4" height="6.2" fill="#000"/>
<rect x="731" y="488" width="1" height="4.2" fill="#000"/>
<rect x="729.2" y="488" width="1.2" height="4.2" fill="#fff"/>
<rect x="713.8" y="500.7" width="6.4" height="6.4" fill="#fff" stroke="#000" stroke-width="1"/>
<rect x="722.2" y="496.4" width="1.6" height="6.2" fill="#000"/>
<rect x="727" y="496.4" width="4" height="6.2" fill="#000"/>
<rect x="731" y="497.4" width="1" height="4.2" fill="#000"/>
<rect x="729.2" y="497.4" width="1.2" height="4.2" fill="#fff"/>
<rect x="722.2" y="505.8" width="1.6" height="6.2" fill="#000"/>
<rect x="727" y="505.8" width="4" height="6.2" fill="#000"/>
<rect x="731" y="506.8" width="1" height="4.2" fill="#000"/>
<rect x="729.2" y="506.8" width="1.2" height="4.2" fill="#fff"/>
<line x1="727.2" y1="402" x2="727.2" y2="512.5" stroke="#000" stroke-width="1"/>
<path d="M713.5 402.4L715 403.8L716.5 402.4M717.5 402.4L719 403.8L720.5 402.4" fill="none" stroke="#000" stroke-width="1"/>
<path d="M713 512L714.5 510.6L716 512M717.5 512L719 510.6L720.5 512" fill="none" stroke="#000" stroke-width="1"/>
</svg>
</body></html>
